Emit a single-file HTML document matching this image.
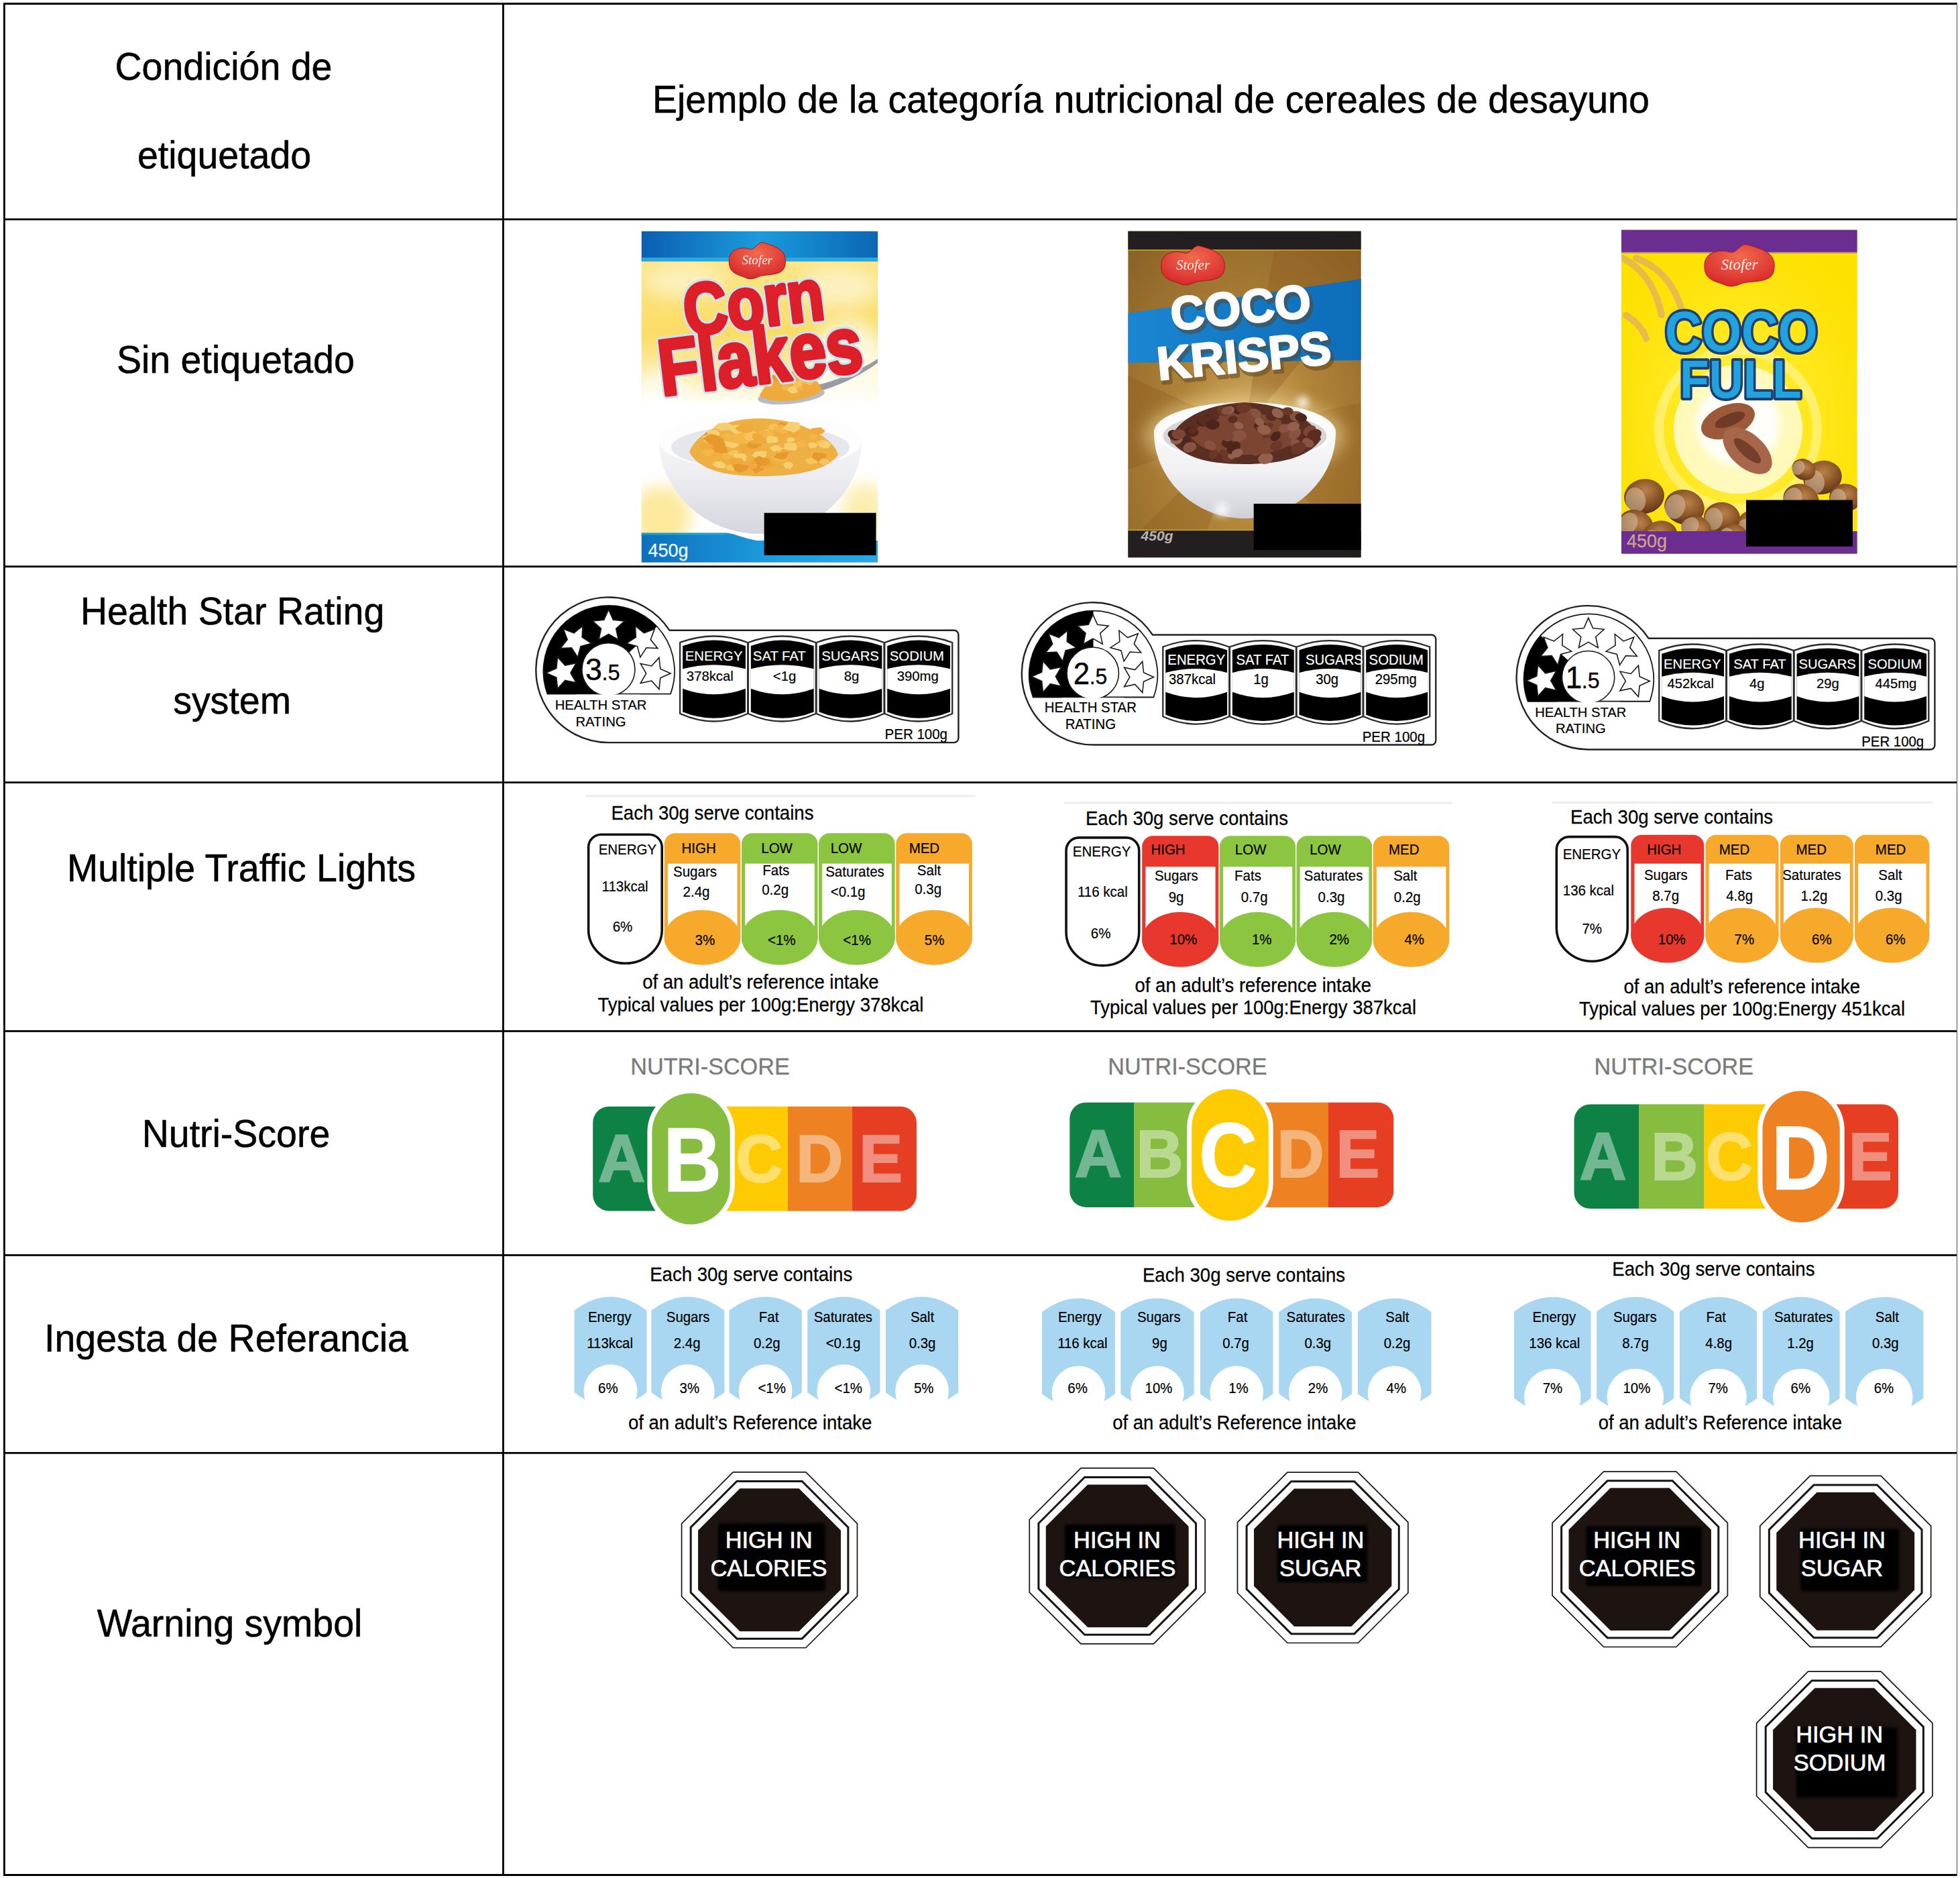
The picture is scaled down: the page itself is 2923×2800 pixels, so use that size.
<!DOCTYPE html>
<html lang="es"><head><meta charset="utf-8"><title>Etiquetado nutricional</title>
<style>
html,body{margin:0;padding:0;background:#fff;}
body{width:2923px;height:2800px;overflow:hidden;position:relative;font-family:"Liberation Sans",sans-serif;}
svg{position:absolute;left:0;top:0;display:block;}
text{font-family:"Liberation Sans",sans-serif;}
text.sf{font-family:"Liberation Serif",serif;font-style:italic;}
</style></head><body>
<svg width="2923" height="2800" viewBox="0 0 2923 2800">
<defs>
<clipPath id="cb3"><rect x="2418" y="342.5" width="351.8" height="483.3"/></clipPath>
<clipPath id="cb2"><rect x="1682.2" y="344.4" width="347.6" height="487"/></clipPath>
<clipPath id="cb1"><rect x="956.5" y="344.5" width="352.8" height="494.2"/></clipPath>
<filter id="blur2" x="-10%" y="-10%" width="120%" height="120%"><feGaussianBlur stdDeviation="2"/></filter>
<filter id="blur6" x="-150%" y="-150%" width="400%" height="400%"><feGaussianBlur stdDeviation="6"/></filter>
<filter id="blur12" x="-30%" y="-30%" width="160%" height="160%"><feGaussianBlur stdDeviation="12"/></filter>
<linearGradient id="blueband" x1="0" x2="1" y1="0" y2="0"><stop offset="0" stop-color="#0a5fb0"/><stop offset="0.5" stop-color="#1b9bdc"/><stop offset="1" stop-color="#0b66b4"/></linearGradient>
<linearGradient id="blueband2" x1="0" x2="1" y1="0" y2="0"><stop offset="0" stop-color="#0d6fbd"/><stop offset="0.6" stop-color="#1f9fe0"/><stop offset="1" stop-color="#2aa6e3"/></linearGradient>
<linearGradient id="yel1" x1="0" x2="0" y1="0" y2="1"><stop offset="0" stop-color="#fbe68a"/><stop offset="0.5" stop-color="#fbdc66"/><stop offset="0.8" stop-color="#fdeeb0"/><stop offset="1" stop-color="#ffffff"/></linearGradient>
<linearGradient id="yel1b" x1="0" x2="0" y1="0" y2="1"><stop offset="0" stop-color="#ffffff"/><stop offset="1" stop-color="#fbe070"/></linearGradient>
<linearGradient id="bowl1" x1="0" x2="0" y1="0" y2="1"><stop offset="0" stop-color="#fbfbfc"/><stop offset="0.5" stop-color="#eeeef2"/><stop offset="1" stop-color="#d5d6de"/></linearGradient>
<radialGradient id="brown2" cx="0.52" cy="0.62" r="0.75"><stop offset="0" stop-color="#d6b068"/><stop offset="0.4" stop-color="#b08439"/><stop offset="1" stop-color="#8b6227"/></radialGradient>
<linearGradient id="blue2" x1="0" x2="1" y1="0" y2="0"><stop offset="0" stop-color="#1b86d2"/><stop offset="1" stop-color="#0c6cb8"/></linearGradient>
<linearGradient id="bowl2" x1="0" x2="0" y1="0" y2="1"><stop offset="0" stop-color="#ffffff"/><stop offset="0.6" stop-color="#f1f1f4"/><stop offset="1" stop-color="#cfd0d8"/></linearGradient>
<radialGradient id="yel3" cx="0.5" cy="0.6" r="0.6"><stop offset="0" stop-color="#fff36e"/><stop offset="0.5" stop-color="#ffe81e"/><stop offset="1" stop-color="#fde100"/></radialGradient>
<radialGradient id="nut" cx="0.55" cy="0.35" r="0.75"><stop offset="0" stop-color="#b9824a"/><stop offset="0.5" stop-color="#8a5426"/><stop offset="1" stop-color="#4f2a12"/></radialGradient>
<radialGradient id="logo" cx="0.5" cy="0.3" r="0.8"><stop offset="0" stop-color="#f26b4e"/><stop offset="1" stop-color="#d41f26"/></radialGradient>
</defs>
<g fill="#000">
<rect x="5" y="4" width="2914" height="3"/>
<rect x="5" y="2794" width="2914" height="3"/>
<rect x="5" y="4" width="2.8" height="2793"/>
<rect x="749" y="4" width="2.8" height="2793"/>
<rect x="5" y="325.6" width="2914" height="2.8"/>
<rect x="5" y="843.3" width="2914" height="2.8"/>
<rect x="5" y="1165.2" width="2914" height="2.8"/>
<rect x="5" y="1536" width="2914" height="2.8"/>
<rect x="5" y="1870" width="2914" height="2.8"/>
<rect x="5" y="2164.9" width="2914" height="2.8"/>
<rect x="2917.9" y="4" width="1.2" height="2793" fill="#666"/>
</g>
<text transform="translate(333.5,118.5) scale(1,1.04)" font-size="55.5" stroke="#000" stroke-width="0.53" text-anchor="middle">Condición de</text>
<text transform="translate(334.5,250.6) scale(1,1.04)" font-size="55.5" stroke="#000" stroke-width="0.53" text-anchor="middle">etiquetado</text>
<text transform="translate(351.4,556.3) scale(1,1.04)" font-size="55.5" stroke="#000" stroke-width="0.53" text-anchor="middle">Sin etiquetado</text>
<text transform="translate(346.6,931.3) scale(1,1.04)" font-size="55.5" stroke="#000" stroke-width="0.53" text-anchor="middle">Health Star Rating</text>
<text transform="translate(346,1063.5) scale(1,1.04)" font-size="55.5" stroke="#000" stroke-width="0.53" text-anchor="middle">system</text>
<text transform="translate(360,1314) scale(1,1.04)" font-size="55.5" stroke="#000" stroke-width="0.53" text-anchor="middle">Multiple Traffic Lights</text>
<text transform="translate(352,1709.9) scale(1,1.04)" font-size="55.5" stroke="#000" stroke-width="0.53" text-anchor="middle">Nutri-Score</text>
<text transform="translate(337.5,2015.1) scale(1,1.04)" font-size="55.5" stroke="#000" stroke-width="0.53" text-anchor="middle">Ingesta de Referancia</text>
<text transform="translate(342.5,2439.8) scale(1,1.04)" font-size="55.5" stroke="#000" stroke-width="0.53" text-anchor="middle">Warning symbol</text>
<text transform="translate(1716.4,167.8) scale(1,1.04)" font-size="55.5" stroke="#000" stroke-width="0.53" text-anchor="middle">Ejemplo de la categoría nutricional de cereales de desayuno</text>
<g clip-path="url(#cb1)">
<rect x="956.5" y="344.5" width="352.8" height="494.2" fill="#fff"/>
<rect x="956.5" y="389" width="352.8" height="215" fill="url(#yel1)"/>
<ellipse cx="1020" cy="420" rx="60" ry="25" fill="#fff" opacity="0.45" filter="url(#blur12)"/>
<ellipse cx="1250" cy="430" rx="60" ry="30" fill="#fff" opacity="0.5" filter="url(#blur12)"/>
<ellipse cx="1265" cy="545" rx="60" ry="70" fill="#fff" opacity="0.7" filter="url(#blur12)"/>
<ellipse cx="985" cy="585" rx="40" ry="35" fill="#fff" opacity="0.6" filter="url(#blur12)"/>
<ellipse cx="985" cy="770" rx="45" ry="45" fill="#fbe27a" opacity="0.75" filter="url(#blur12)"/>
<ellipse cx="1290" cy="760" rx="35" ry="40" fill="#fbe27a" opacity="0.6" filter="url(#blur12)"/>
<rect x="956.5" y="344.5" width="352.8" height="45" fill="url(#blueband)"/>
<rect x="956.5" y="384" width="352.8" height="5.5" fill="#2aa9e0"/>
<path d="M983,660 C983,630 1060,616 1134,616 C1210,616 1285,630 1285,660 C1285,722 1228,796 1134,796 C1042,796 983,722 983,660Z" fill="url(#bowl1)"/>
<ellipse cx="1134" cy="658" rx="151" ry="43" fill="#fdfdfd"/>
<ellipse cx="1134" cy="667" rx="133" ry="33" fill="#e6e7ec"/>
<path d="M1028,674 C1040,642 1090,622 1140,624 C1190,626 1242,650 1250,678 C1232,704 1180,710 1134,710 C1085,710 1043,702 1028,674Z" fill="#eeb043"/>
<path d="M1117.9,647.34 L1105.09,651.51 L1099.01,650.38 L1095.56,643.48 L1103.1,638.99 L1117.73,643.14Z" fill="#f3b648"/>
<path d="M1168.36,640.52 L1158.67,645.18 L1149.86,644.77 L1147.47,637.38 L1153.82,633.12 L1163.5,635.16Z" fill="#f0a93a"/>
<path d="M1078.7,684.06 L1075.92,680.82 L1080.29,675.3 L1087.04,673.88 L1093.6,678.38 L1088.57,683.55Z" fill="#f3b648"/>
<path d="M1150.21,642.86 L1149.23,650.58 L1139.72,651.47 L1133.01,648.38 L1135.08,643.14 L1145.39,640.1Z" fill="#f8cf6e"/>
<path d="M1134.67,673.31 L1139.32,675.02 L1140.77,679.59 L1137.14,682.18 L1131.93,681.64 L1129.15,677.17Z" fill="#f3b648"/>
<path d="M1102.32,664.04 L1094.58,668.24 L1079.99,665.11 L1082.11,655.34 L1091.16,654.34 L1099.83,656.59Z" fill="#f8cf6e"/>
<path d="M1177.7,642.34 L1163.39,643.31 L1157.38,634.11 L1164.82,629.59 L1176.65,632.25 L1183.44,639.31Z" fill="#e8992e"/>
<path d="M1203.77,690.4 L1199.77,685.32 L1210.02,682.32 L1217.81,684.44 L1220.02,689.62 L1209.9,693.11Z" fill="#f6c45a"/>
<path d="M1052.47,644.87 L1059.5,643.64 L1067.84,649.58 L1064.28,652.59 L1053.74,655.03 L1048.21,650.63Z" fill="#e8992e"/>
<path d="M1131.41,654.49 L1129.1,648.52 L1135.03,641.39 L1153.29,642.05 L1154.61,649.85 L1147.3,656.65Z" fill="#f3b648"/>
<path d="M1168.85,667.1 L1175.98,673.07 L1175.42,679.02 L1167.78,680.91 L1156.88,678.86 L1154.51,669.75Z" fill="#f0a93a"/>
<path d="M1139.66,692.78 L1139.1,701.06 L1126.22,705.5 L1119.78,697.37 L1123,689.75 L1134.76,687.17Z" fill="#e8992e"/>
<path d="M1072.06,667.84 L1060.92,668.19 L1056.88,658.69 L1065.97,655.25 L1075.23,653.58 L1079.92,660.56Z" fill="#f0a93a"/>
<path d="M1125.42,674.06 L1134.38,672.46 L1143.65,672.81 L1142.11,682.2 L1130.19,684.11 L1121.16,679.85Z" fill="#f8cf6e"/>
<path d="M1086.48,657.59 L1078.42,653.85 L1076.25,648.57 L1085.36,645.93 L1093.8,648.74 L1091.06,654.91Z" fill="#f3b648"/>
<path d="M1072.51,660.08 L1084.69,664.88 L1082.84,674.32 L1072.88,676.33 L1060.31,671.44 L1062.31,665.04Z" fill="#f3b648"/>
<path d="M1078.31,655.4 L1085.01,648.63 L1101.45,648.55 L1103.02,653.01 L1098.44,661.06 L1086.38,659.11Z" fill="#f3b648"/>
<path d="M1154.84,690.08 L1156.29,694.78 L1146.54,698.87 L1133.76,697.54 L1132.78,686.06 L1142.38,683.57Z" fill="#f0a93a"/>
<path d="M1180.88,644.68 L1175.9,650.78 L1166.01,651.32 L1154.96,646.04 L1161.81,639.89 L1172.98,639.07Z" fill="#f0a93a"/>
<path d="M1110.56,651.71 L1120.13,654.09 L1124.61,660.8 L1114.92,662.62 L1109.8,661.52 L1106.1,655.64Z" fill="#f8cf6e"/>
<path d="M1074.54,655.71 L1082.48,662.39 L1077.17,668.36 L1063.43,668.57 L1058.08,662.21 L1061.55,658.92Z" fill="#e8992e"/>
<path d="M1093.97,679.7 L1085.1,677.34 L1088.18,672.88 L1095.3,670.39 L1100.38,672.31 L1101.44,676.58Z" fill="#f6c45a"/>
<path d="M1100.68,661.61 L1089.75,656.51 L1096.16,652.65 L1107.93,647.08 L1114.54,653.85 L1113.69,660.75Z" fill="#f3b648"/>
<path d="M1175,674.02 L1177.54,679.15 L1168.23,685.05 L1160.34,684.05 L1158.43,673.87 L1163.84,671.89Z" fill="#f3b648"/>
<path d="M1209.47,658.97 L1214.78,659.87 L1219.53,663.05 L1216.99,666.91 L1208.71,668.62 L1204.68,662.48Z" fill="#f8cf6e"/>
<path d="M1087.34,701.54 L1081.66,697.62 L1086.44,692.42 L1096.04,692.18 L1100.94,697.57 L1094.94,702.34Z" fill="#f6c45a"/>
<path d="M1174.32,634.93 L1176.57,643.81 L1172.2,649.92 L1158.11,649.21 L1154.3,640.15 L1161.2,632.31Z" fill="#f0a93a"/>
<path d="M1170.97,689.41 L1159.43,688.01 L1150.28,683.59 L1156.01,675.56 L1168.35,677.48 L1176.17,679.83Z" fill="#f3b648"/>
<path d="M1237.36,662.55 L1228.94,664.7 L1217.93,663.73 L1217.63,658.17 L1226.33,655.28 L1234.66,657.06Z" fill="#f6c45a"/>
<path d="M1062.28,659.43 L1050.4,658.57 L1047.63,650.22 L1057.18,647.37 L1064.91,647.73 L1069.19,655.33Z" fill="#f8cf6e"/>
<path d="M1151.1,641.59 L1146.23,639.06 L1146.81,634.18 L1152.15,631.47 L1160.65,633.85 L1156.72,639.53Z" fill="#f6c45a"/>
<path d="M1117.55,691.95 L1125.98,683.19 L1132.08,679.62 L1143.47,685.27 L1142.18,694.44 L1131.21,695.05Z" fill="#e8992e"/>
<path d="M1106.76,673.94 L1103.51,665.44 L1110.55,661.15 L1124.98,661.8 L1128.42,668.89 L1114.01,674.2Z" fill="#f0a93a"/>
<path d="M1220.74,688.98 L1210.59,682.13 L1213.23,674.41 L1225.92,675.31 L1233.08,677.6 L1228.23,686.51Z" fill="#e8992e"/>
<path d="M1233.05,658.02 L1239.86,661.93 L1235.33,668.33 L1227.6,668.18 L1220.8,665.29 L1222.7,659.7Z" fill="#f8cf6e"/>
<path d="M1107.95,643.98 L1097.25,647.69 L1087.06,640.38 L1089.18,634.35 L1103.24,633.06 L1109.8,638.05Z" fill="#f8cf6e"/>
<path d="M1129.69,688.18 L1132.33,685.01 L1140.25,682.01 L1148.35,685.2 L1149.03,691.82 L1135.16,694.42Z" fill="#e8992e"/>
<path d="M1115.02,666.26 L1114.06,660.67 L1121.81,656.18 L1133.29,658.25 L1135.76,662.93 L1126.85,668.88Z" fill="#e8992e"/>
<path d="M1139.21,652.48 L1133.07,662.32 L1123.59,661.34 L1112.86,658.21 L1119.54,648.68 L1132.96,650.44Z" fill="#f0a93a"/>
<path d="M1058.64,640.23 L1068.79,640.97 L1073.98,646.54 L1069.63,653.1 L1058.98,650.81 L1054.02,645.43Z" fill="#f8cf6e"/>
<path d="M1070.61,662.41 L1058.96,661.77 L1048.22,653.93 L1059.49,646.38 L1071.08,649.76 L1079.72,655.46Z" fill="#e8992e"/>
<path d="M1172.6,656.56 L1175.13,652.19 L1182.77,651.5 L1185.74,656.1 L1182.06,658.53 L1175.56,660.34Z" fill="#f8cf6e"/>
<path d="M1057.51,663.28 L1065.19,666.42 L1063.32,671.56 L1058.29,672.17 L1049.7,670.18 L1053.15,664.49Z" fill="#f0a93a"/>
<path d="M1125.94,655.42 L1114.87,657.88 L1109.06,651.29 L1110.87,645.39 L1122.67,641.27 L1132.77,648.51Z" fill="#f6c45a"/>
<path d="M1113.63,680.88 L1112.05,687.62 L1097.81,687.32 L1093.5,681.46 L1095.13,675.84 L1111.06,676.42Z" fill="#f8cf6e"/>
<path d="M1063.08,662.73 L1063.09,669.36 L1055.51,672.31 L1046.7,669.16 L1044.97,663.06 L1052.63,661.46Z" fill="#f0a93a"/>
<path d="M1053.88,680.8 L1045.73,674.02 L1050.89,669.67 L1062.88,669.37 L1064.37,675.87 L1059.57,679.18Z" fill="#f3b648"/>
<path d="M1185.04,660.25 L1190.05,664.27 L1186.93,671.38 L1177.45,671.56 L1168.1,669.18 L1171.02,660.22Z" fill="#f8cf6e"/>
<path d="M1163.65,671.99 L1153.84,673.43 L1147.12,667.35 L1155.54,663.81 L1160.25,664.16 L1168.75,668.49Z" fill="#f8cf6e"/>
<path d="M1122.75,645.72 L1132.48,646.33 L1138.79,650.39 L1136.44,654.94 L1126.95,655.77 L1121.98,653.14Z" fill="#f0a93a"/>
<path d="M1070.84,698.01 L1062.57,692.8 L1066.65,688.02 L1076.12,687.66 L1083.56,693.48 L1079.87,697.67Z" fill="#f8cf6e"/>
<path d="M1206.17,649.24 L1212.34,647.07 L1219.5,649.11 L1216.03,653.22 L1210.14,655.76 L1206.35,652.61Z" fill="#f3b648"/>
<path d="M1123.77,642.47 L1113.74,646.05 L1101.53,643.28 L1096.13,638.87 L1105.88,631.39 L1121.12,633.55Z" fill="#f0a93a"/>
<path d="M1066.48,674.08 L1061.4,667.73 L1071.86,663.35 L1082.58,665.88 L1085.8,674.82 L1076.21,675.95Z" fill="#e8992e"/>
<path d="M1187.36,646.44 L1189.39,650.88 L1183.03,652.66 L1179.32,651.79 L1177.59,646.73 L1182.84,643.88Z" fill="#f8cf6e"/>
<path d="M1187.6,651.39 L1180.08,652.64 L1177.13,645.95 L1177.42,642.05 L1191.38,642.87 L1195.86,645.24Z" fill="#f0a93a"/>
<path d="M1125.34,687.26 L1130.37,693.93 L1126.08,698.74 L1114.44,698.52 L1109.43,692.89 L1113.01,689.4Z" fill="#f0a93a"/>
<path d="M1235.64,685.42 L1237.4,689.47 L1229.65,693.87 L1223.31,691 L1221.57,687.31 L1227.14,683.34Z" fill="#f6c45a"/>
<path d="M1063.93,636.95 L1071.01,631.24 L1082.15,629.86 L1090.87,633.1 L1089.64,640.75 L1075.7,642.32Z" fill="#f8cf6e"/>
<path d="M1165.31,633.38 L1178.42,640.18 L1172.11,645.45 L1166.59,648.71 L1156.45,642.71 L1153.8,637.25Z" fill="#f3b648"/>
<path d="M1092.99,682.37 L1106.98,683.49 L1110.09,690.04 L1102.1,693.9 L1090.96,694.84 L1088.78,688.1Z" fill="#f0a93a"/>
<path d="M1143.47,660.19 L1137.59,660.06 L1134.69,655.43 L1139.46,653 L1147.63,652.7 L1148.62,656.75Z" fill="#f0a93a"/>
<path d="M1168.07,691.65 L1172.91,688.71 L1180.19,689.23 L1183.59,693.37 L1178.36,699.52 L1170.56,697.61Z" fill="#f8cf6e"/>
<path d="M1117.24,695.1 L1114.26,700.84 L1102.21,705.08 L1095.12,700.85 L1092.86,693.37 L1102.25,691.8Z" fill="#e8992e"/>
<path d="M1142.2,653.77 L1147.8,649.5 L1158.58,651.49 L1161.15,657.83 L1156.83,659.99 L1143.89,660.5Z" fill="#f8cf6e"/>
<path d="M1202.49,663.25 L1197.31,666.82 L1188.58,666.09 L1186.75,662.15 L1189.21,658.46 L1196.75,657.62Z" fill="#f3b648"/>
<path d="M1211.54,638.6 L1223.73,636.93 L1230.83,642.81 L1225.17,647.13 L1215.14,647.68 L1205.91,641.66Z" fill="#f0a93a"/>
<path d="M1177.62,628.62 L1192.38,630.33 L1193.35,639.29 L1184.24,645 L1166.76,639.33 L1171.57,634.23Z" fill="#f8cf6e"/>
<path d="M1176.92,674.64 L1172.79,683.25 L1165.74,685.37 L1153.17,681.88 L1156.71,677.34 L1167.99,673.65Z" fill="#e8992e"/>
<path d="M956.5,794.5 H1080 C1095,794.5 1105,802 1130,806 H1309.3 V838.7 H956.5Z" fill="url(#blueband2)"/>
<rect x="956.5" y="794.5" width="125" height="3" fill="#2bb0c9" opacity="0.7"/>
<path d="M1185,580 C1230,575 1270,560 1309,535 L1309,541 C1275,566 1232,584 1190,590Z" fill="#9a9ca3"/>
<ellipse cx="1180" cy="590" rx="50" ry="12" fill="#b9bbc2" transform="rotate(-6 1180 590)"/>
<path d="M1133,590 C1140,570 1165,556 1185,553 C1210,556 1222,570 1226,582 C1210,598 1150,604 1133,590Z" fill="#eeaa3c"/>
<path d="M1176.99,574.85 L1180.25,579.91 L1175.54,583.08 L1168.14,581.87 L1164.72,578.99 L1167.27,574.75Z" fill="#f3b648"/>
<path d="M1161.4,562 L1159.75,563.78 L1154.41,565.53 L1151.45,564.51 L1150.49,559.96 L1154.55,558.53Z" fill="#e8992e"/>
<path d="M1181,575.79 L1188.09,577.76 L1190.23,584.92 L1181.23,586.99 L1174.63,582.66 L1175.15,579.01Z" fill="#f8cf6e"/>
<path d="M1191.1,570.32 L1190.81,566.25 L1199.98,563.3 L1204.18,566.06 L1204.82,569.75 L1196.96,570.92Z" fill="#f6c45a"/>
<path d="M1189.92,565.55 L1184.92,569.42 L1177.75,567.54 L1173.01,564.02 L1181.47,561.24 L1186.78,561.69Z" fill="#f3b648"/>
<path d="M1196.52,572.01 L1194.12,567.27 L1198.29,562.84 L1203.97,562.71 L1209.3,566.49 L1203.59,572.04Z" fill="#f3b648"/>
<path d="M1183.1,574.93 L1182.71,570.72 L1187.67,567.62 L1194.83,568.07 L1196.71,574.22 L1191.42,576.21Z" fill="#f6c45a"/>
<path d="M1187.2,577.7 L1193.7,575.27 L1197.35,576.84 L1197.8,581.05 L1194.37,582.16 L1188.61,579.91Z" fill="#f3b648"/>
<path d="M1165.13,565.7 L1167.22,571.41 L1162.28,574.34 L1152.78,573.55 L1148.44,568.57 L1152.98,566.01Z" fill="#f0a93a"/>
<path d="M1157.16,569.24 L1153.71,566.6 L1154.26,564.01 L1159.16,562.76 L1165.26,566.05 L1162.91,569.13Z" fill="#e8992e"/>
<path d="M1170.14,567.74 L1169.46,563.44 L1176.6,561.72 L1185.83,563.33 L1184.76,568.93 L1176.47,571.2Z" fill="#f0a93a"/>
<path d="M1186.71,571.64 L1191.61,570.36 L1197.09,572.78 L1193.65,577.01 L1186.8,578.38 L1182.07,575.45Z" fill="#f6c45a"/>
<path d="M1209.11,567.98 L1213.64,570.5 L1209.25,574.33 L1205.92,574.41 L1201.64,571.14 L1204.71,568.18Z" fill="#f6c45a"/>
<path d="M1209.24,576.35 L1209.48,580.05 L1200.66,580.95 L1196.79,577.58 L1198.41,574.47 L1202.81,571.46Z" fill="#f0a93a"/>
<g transform="translate(0,-5) rotate(-7 1130 500) translate(1130,500) scale(0.9,1.08) translate(-1130,-500)">
<text x="1129" y="493" font-size="100" text-anchor="middle" fill="#b9dbe8" stroke="#c9e4ee" stroke-width="11" font-weight="bold" stroke-linejoin="round" paint-order="stroke">Corn</text>
<text x="1129" y="571" font-size="109" text-anchor="middle" fill="#b9dbe8" stroke="#c9e4ee" stroke-width="11" font-weight="bold" stroke-linejoin="round" paint-order="stroke">Flakes</text>
<text x="1129" y="493" font-size="100" text-anchor="middle" fill="#dd1f29" stroke="#dd1f29" stroke-width="5" font-weight="bold" stroke-linejoin="round" paint-order="stroke">Corn</text>
<text x="1129" y="571" font-size="109" text-anchor="middle" fill="#dd1f29" stroke="#dd1f29" stroke-width="5" font-weight="bold" stroke-linejoin="round" paint-order="stroke">Flakes</text>
</g>
<path d="M1087.3,390.7 C1085.62,369.1 1108.3,367.48 1119.22,371.8 C1127.62,371.8 1130.98,358.3 1139.38,362.08 C1154.5,366.4 1172.98,371.8 1171.3,390.7 C1171.3,409.6 1154.5,408.52 1137.7,410.68 C1129.3,411.76 1125.1,417.7 1114.18,415 C1104.1,409.6 1087.3,409.6 1087.3,390.7Z" fill="url(#logo)" stroke="#a3151b" stroke-width="1"/>
<text x="1129.3" y="394.08" font-size="19" class="sf" fill="#fff" text-anchor="middle" opacity="0.92">Stofer</text>
<rect x="1139.6" y="764.7" width="166.9" height="63.1" fill="#000"/>
<text transform="translate(966.5,830) scale(1,1.04)" font-size="27" fill="#eaf8ff" stroke="#eaf8ff" stroke-width="0.26">450g</text>
</g>
<g clip-path="url(#cb2)">
<rect x="1682.2" y="344.4" width="347.6" height="487" fill="url(#brown2)"/>
<path d="M1856,640 L1682.2,560 L1682.2,700Z" fill="#8a5a1e" opacity="0.35"/>
<path d="M1856,640 L1900,372 L2029.8,372 L2029.8,430Z" fill="#8a5a1e" opacity="0.35"/>
<path d="M1856,640 L2029.8,600 L2029.8,791 L1990,791Z" fill="#8a5a1e" opacity="0.3"/>
<path d="M1856,640 L1700,791 L1800,791Z" fill="#8a5a1e" opacity="0.3"/>
<path d="M1682.2,467 L2029.8,416 L2029.8,537 L1682.2,541Z" fill="url(#blue2)"/>
<rect x="1682.2" y="344.4" width="347.6" height="28" fill="#231f20"/>
<rect x="1682.2" y="372" width="347.6" height="1.6" fill="#c9a227"/>
<rect x="1682.2" y="791" width="347.6" height="40.4" fill="#231f20"/>
<rect x="1682.2" y="789.5" width="347.6" height="1.6" fill="#c9a227"/>
<ellipse cx="1856" cy="650" rx="150" ry="60" fill="#f5dfa0" opacity="0.55" filter="url(#blur12)"/>
<path d="M1721,646 C1721,616 1790,600 1856,600 C1925,600 1992,616 1992,646 C1992,710 1935,773 1856,773 C1778,773 1721,710 1721,646Z" fill="url(#bowl2)"/>
<ellipse cx="1856.5" cy="644" rx="135.5" ry="44" fill="#fbfbfc"/>
<ellipse cx="1856.5" cy="650" rx="122" ry="36" fill="#d8d5d6"/>
<path d="M1745,655 C1755,625 1800,602 1856,600 C1915,602 1960,625 1970,655 C1950,684 1905,692 1856,692 C1805,692 1765,684 1745,655Z" fill="#5a2e22"/>
<path d="M1775,650 C1790,628 1820,615 1856,614 C1895,616 1925,630 1940,650 C1920,672 1890,678 1856,678 C1820,678 1790,672 1775,650Z" fill="#7b4532"/>
<ellipse cx="1847.26" cy="649.66" rx="11.62" ry="8.37" fill="#8a5240" transform="rotate(-3.85 1847.26 649.66)"/>
<ellipse cx="1933.83" cy="620.81" rx="11.02" ry="7.93" fill="#8a5240" transform="rotate(10.39 1933.83 620.81)"/>
<ellipse cx="1920.49" cy="613.34" rx="8.52" ry="6.13" fill="#6b3828" transform="rotate(3.1 1920.49 613.34)"/>
<ellipse cx="1941.43" cy="655.49" rx="9.98" ry="7.18" fill="#8a5240" transform="rotate(37.18 1941.43 655.49)"/>
<ellipse cx="1890.59" cy="654.01" rx="7.79" ry="5.61" fill="#6b3828" transform="rotate(26.54 1890.59 654.01)"/>
<ellipse cx="1939.11" cy="652.77" rx="10.89" ry="7.84" fill="#5a2d20" transform="rotate(-4.76 1939.11 652.77)"/>
<ellipse cx="1931.12" cy="646.49" rx="10.2" ry="7.35" fill="#8a5240" transform="rotate(-39.63 1931.12 646.49)"/>
<ellipse cx="1768.27" cy="657.07" rx="9.03" ry="6.5" fill="#4c251b" transform="rotate(39.66 1768.27 657.07)"/>
<ellipse cx="1930.65" cy="661.21" rx="8.58" ry="6.17" fill="#7d4634" transform="rotate(1.03 1930.65 661.21)"/>
<ellipse cx="1756.4" cy="649.93" rx="7.54" ry="5.43" fill="#6b3828" transform="rotate(27.73 1756.4 649.93)"/>
<ellipse cx="1833.1" cy="680.73" rx="11.24" ry="8.09" fill="#6b3828" transform="rotate(-22.92 1833.1 680.73)"/>
<ellipse cx="1830.72" cy="661.29" rx="9.1" ry="6.55" fill="#4c251b" transform="rotate(10.36 1830.72 661.29)"/>
<ellipse cx="1917.38" cy="627.04" rx="7.44" ry="5.35" fill="#5a2d20" transform="rotate(-38.79 1917.38 627.04)"/>
<ellipse cx="1838.16" cy="677.98" rx="7.67" ry="5.52" fill="#93604d" transform="rotate(-31.92 1838.16 677.98)"/>
<ellipse cx="1788.2" cy="649.63" rx="9.24" ry="6.65" fill="#7d4634" transform="rotate(38.82 1788.2 649.63)"/>
<ellipse cx="1915.45" cy="638.7" rx="8.92" ry="6.42" fill="#8a5240" transform="rotate(-6.34 1915.45 638.7)"/>
<ellipse cx="1795.77" cy="627.04" rx="11.85" ry="8.54" fill="#4c251b" transform="rotate(-15.67 1795.77 627.04)"/>
<ellipse cx="1940.25" cy="622.44" rx="8.97" ry="6.46" fill="#4c251b" transform="rotate(11.35 1940.25 622.44)"/>
<ellipse cx="1795.85" cy="626.15" rx="10.86" ry="7.82" fill="#5a2d20" transform="rotate(26.42 1795.85 626.15)"/>
<ellipse cx="1833.03" cy="611.79" rx="8.04" ry="5.79" fill="#93604d" transform="rotate(-20.56 1833.03 611.79)"/>
<ellipse cx="1879.28" cy="634.99" rx="9.27" ry="6.67" fill="#4c251b" transform="rotate(-1.3 1879.28 634.99)"/>
<ellipse cx="1873.53" cy="673.59" rx="7.91" ry="5.7" fill="#7d4634" transform="rotate(-15.14 1873.53 673.59)"/>
<ellipse cx="1799.1" cy="653.61" rx="10.63" ry="7.65" fill="#7d4634" transform="rotate(19.15 1799.1 653.61)"/>
<ellipse cx="1879.76" cy="638.87" rx="7.52" ry="5.41" fill="#6b3828" transform="rotate(0.99 1879.76 638.87)"/>
<ellipse cx="1804.86" cy="663.71" rx="8.96" ry="6.45" fill="#8a5240" transform="rotate(25.9 1804.86 663.71)"/>
<ellipse cx="1878.24" cy="628.89" rx="7.88" ry="5.67" fill="#93604d" transform="rotate(38.17 1878.24 628.89)"/>
<ellipse cx="1777.18" cy="643.39" rx="10.27" ry="7.39" fill="#4c251b" transform="rotate(9.14 1777.18 643.39)"/>
<ellipse cx="1810.25" cy="677.55" rx="8.02" ry="5.77" fill="#6b3828" transform="rotate(-34.47 1810.25 677.55)"/>
<ellipse cx="1838.46" cy="625.43" rx="7.23" ry="5.21" fill="#5a2d20" transform="rotate(-10.5 1838.46 625.43)"/>
<ellipse cx="1873.02" cy="616.26" rx="8.81" ry="6.34" fill="#8a5240" transform="rotate(38.44 1873.02 616.26)"/>
<ellipse cx="1891.24" cy="659.92" rx="9.92" ry="7.14" fill="#7d4634" transform="rotate(7.19 1891.24 659.92)"/>
<ellipse cx="1948.57" cy="643.03" rx="8.79" ry="6.33" fill="#5a2d20" transform="rotate(37.02 1948.57 643.03)"/>
<ellipse cx="1754.57" cy="655.62" rx="9.41" ry="6.78" fill="#93604d" transform="rotate(-15.11 1754.57 655.62)"/>
<ellipse cx="1847.41" cy="634.69" rx="7.22" ry="5.2" fill="#93604d" transform="rotate(18.97 1847.41 634.69)"/>
<ellipse cx="1823.45" cy="612.62" rx="9.37" ry="6.74" fill="#6b3828" transform="rotate(29.69 1823.45 612.62)"/>
<ellipse cx="1839.69" cy="667.66" rx="11.32" ry="8.15" fill="#4c251b" transform="rotate(-38.84 1839.69 667.66)"/>
<ellipse cx="1892.39" cy="635.58" rx="7.06" ry="5.08" fill="#6b3828" transform="rotate(-33.58 1892.39 635.58)"/>
<ellipse cx="1887.47" cy="683.48" rx="11.4" ry="8.21" fill="#93604d" transform="rotate(-13.59 1887.47 683.48)"/>
<ellipse cx="1950.86" cy="660.14" rx="9.29" ry="6.69" fill="#8a5240" transform="rotate(27.07 1950.86 660.14)"/>
<ellipse cx="1768.01" cy="664.52" rx="7.15" ry="5.15" fill="#4c251b" transform="rotate(-32.98 1768.01 664.52)"/>
<ellipse cx="1774.27" cy="666.84" rx="10.3" ry="7.42" fill="#8a5240" transform="rotate(-19.53 1774.27 666.84)"/>
<ellipse cx="1895.8" cy="621.8" rx="7.85" ry="5.65" fill="#5a2d20" transform="rotate(12.8 1895.8 621.8)"/>
<ellipse cx="1845.02" cy="675.55" rx="8.63" ry="6.22" fill="#93604d" transform="rotate(-19.95 1845.02 675.55)"/>
<ellipse cx="1886.35" cy="668.69" rx="10.77" ry="7.76" fill="#7d4634" transform="rotate(30.42 1886.35 668.69)"/>
<ellipse cx="1832.65" cy="651.48" rx="8.58" ry="6.18" fill="#7d4634" transform="rotate(-29.24 1832.65 651.48)"/>
<ellipse cx="1825.41" cy="675.86" rx="7.2" ry="5.19" fill="#6b3828" transform="rotate(36 1825.41 675.86)"/>
<ellipse cx="1809.51" cy="619.19" rx="9.25" ry="6.66" fill="#5a2d20" transform="rotate(34.06 1809.51 619.19)"/>
<ellipse cx="1928.64" cy="635.84" rx="9.6" ry="6.91" fill="#93604d" transform="rotate(-14.77 1928.64 635.84)"/>
<ellipse cx="1847.28" cy="611.82" rx="7.16" ry="5.15" fill="#4c251b" transform="rotate(-36.68 1847.28 611.82)"/>
<ellipse cx="1902.36" cy="650.51" rx="8.55" ry="6.15" fill="#4c251b" transform="rotate(-38.47 1902.36 650.51)"/>
<ellipse cx="1779.21" cy="641.48" rx="7.12" ry="5.13" fill="#5a2d20" transform="rotate(-21.01 1779.21 641.48)"/>
<ellipse cx="1885.27" cy="640.83" rx="10.15" ry="7.31" fill="#93604d" transform="rotate(11.19 1885.27 640.83)"/>
<ellipse cx="1829.27" cy="612.08" rx="7.99" ry="5.75" fill="#8a5240" transform="rotate(-19.52 1829.27 612.08)"/>
<ellipse cx="1903.56" cy="664.89" rx="9.67" ry="6.97" fill="#6b3828" transform="rotate(-25.67 1903.56 664.89)"/>
<ellipse cx="1808.56" cy="632.97" rx="10.49" ry="7.55" fill="#4c251b" transform="rotate(0.03 1808.56 632.97)"/>
<ellipse cx="1932.48" cy="660.58" rx="8.12" ry="5.85" fill="#8a5240" transform="rotate(34.61 1932.48 660.58)"/>
<ellipse cx="1905.31" cy="616.13" rx="9.27" ry="6.67" fill="#93604d" transform="rotate(30.99 1905.31 616.13)"/>
<ellipse cx="1751.45" cy="648.9" rx="10.26" ry="7.39" fill="#4c251b" transform="rotate(23.74 1751.45 648.9)"/>
<ellipse cx="1953.02" cy="642.17" rx="10.26" ry="7.38" fill="#7d4634" transform="rotate(-32.08 1953.02 642.17)"/>
<ellipse cx="1936.22" cy="668.27" rx="11.62" ry="8.37" fill="#6b3828" transform="rotate(-22.94 1936.22 668.27)"/>
<ellipse cx="1960.13" cy="647.88" rx="10.95" ry="7.89" fill="#5a2d20" transform="rotate(-19.05 1960.13 647.88)"/>
<ellipse cx="1858.51" cy="608.9" rx="8.71" ry="6.27" fill="#8a5240" transform="rotate(21.46 1858.51 608.9)"/>
<ellipse cx="1854.8" cy="608.22" rx="11.05" ry="7.95" fill="#6b3828" transform="rotate(-5.69 1854.8 608.22)"/>
<ellipse cx="1757.55" cy="647.58" rx="10.43" ry="7.51" fill="#7d4634" transform="rotate(-2.36 1757.55 647.58)"/>
<circle cx="1822" cy="760" r="9" fill="#fff" filter="url(#blur6)"/>
<circle cx="1943" cy="600" r="8" fill="#fff" filter="url(#blur6)"/>
<g transform="translate(0,-12) rotate(-5.5 1856 500)">
<text x="1853" y="494" font-size="70" text-anchor="middle" fill="#5b4321" opacity="0.5" stroke="#5b4321" stroke-width="6" font-weight="bold" stroke-linejoin="round" paint-order="stroke" transform="translate(3,5)">COCO</text>
<text x="1851" y="566" font-size="70" text-anchor="middle" fill="#5b4321" opacity="0.5" stroke="#5b4321" stroke-width="6" font-weight="bold" stroke-linejoin="round" paint-order="stroke" transform="translate(3,5)">KRISPS</text>
<text x="1853" y="494" font-size="70" text-anchor="middle" fill="#fdfdfd" stroke="#fdfdfd" stroke-width="2.5" font-weight="bold" stroke-linejoin="round" paint-order="stroke">COCO</text>
<text x="1851" y="566" font-size="70" text-anchor="middle" fill="#fdfdfd" stroke="#fdfdfd" stroke-width="2.5" font-weight="bold" stroke-linejoin="round" paint-order="stroke">KRISPS</text>
</g>
<path d="M1732,397.9 C1730.12,374.7 1755.5,372.96 1767.72,377.6 C1777.12,377.6 1780.88,363.1 1790.28,367.16 C1807.2,371.8 1827.88,377.6 1826,397.9 C1826,418.2 1807.2,417.04 1788.4,419.36 C1779,420.52 1774.3,426.9 1762.08,424 C1750.8,418.2 1732,418.2 1732,397.9Z" fill="url(#logo)" stroke="#a3151b" stroke-width="1"/>
<text x="1779" y="401.72" font-size="21" class="sf" fill="#fff" text-anchor="middle" opacity="0.92">Stofer</text>
<rect x="1869.7" y="751" width="160.1" height="69" fill="#000"/>
<text x="1701.6" y="806" font-size="21" font-style="italic" font-weight="bold" fill="#b9b4b0">450g</text>
</g>
<g clip-path="url(#cb3)">
<rect x="2418" y="342.5" width="351.8" height="483.3" fill="url(#yel3)"/>
<circle cx="2592" cy="640" r="118" fill="none" stroke="#fff6a8" stroke-width="14" opacity="0.55"/>
<circle cx="2592" cy="640" r="96" fill="#fffbd2" opacity="0.85"/>
<circle cx="2592" cy="632" r="62" fill="#fff" opacity="0.9" filter="url(#blur6)"/>
<path d="M2420,385 C2450,400 2470,430 2478,470 M2440,385 C2480,400 2500,430 2510,470 M2425,470 C2440,480 2450,490 2455,505" stroke="#e0ad62" stroke-width="10" fill="none" opacity="0.75" stroke-linecap="round" stroke-dasharray="7 4"/>
<rect x="2418" y="342.5" width="351.8" height="33.5" fill="#6c2d91"/>
<rect x="2418" y="375.5" width="351.8" height="2.5" fill="#9b6fb5" opacity="0.6"/>
<g transform="rotate(-10 2452 740)"><ellipse cx="2452" cy="740" rx="30" ry="25.8" fill="url(#nut)"/><ellipse cx="2438.5" cy="743" rx="15" ry="18.6" fill="#d8c3a8" opacity="0.55"/></g>
<g transform="rotate(15 2512 756)"><ellipse cx="2512" cy="756" rx="30" ry="25.8" fill="url(#nut)"/><ellipse cx="2498.5" cy="759" rx="15" ry="18.6" fill="#d8c3a8" opacity="0.55"/></g>
<g transform="rotate(30 2440 784)"><ellipse cx="2440" cy="784" rx="27" ry="23.22" fill="url(#nut)"/><ellipse cx="2427.85" cy="786.7" rx="13.5" ry="16.74" fill="#d8c3a8" opacity="0.55"/></g>
<g transform="rotate(-20 2475 800)"><ellipse cx="2475" cy="800" rx="27" ry="23.22" fill="url(#nut)"/><ellipse cx="2462.85" cy="802.7" rx="13.5" ry="16.74" fill="#d8c3a8" opacity="0.55"/></g>
<g transform="rotate(5 2568 772)"><ellipse cx="2568" cy="772" rx="27" ry="23.22" fill="url(#nut)"/><ellipse cx="2555.85" cy="774.7" rx="13.5" ry="16.74" fill="#d8c3a8" opacity="0.55"/></g>
<g transform="rotate(40 2530 790)"><ellipse cx="2530" cy="790" rx="24" ry="20.64" fill="url(#nut)"/><ellipse cx="2519.2" cy="792.4" rx="12" ry="14.88" fill="#d8c3a8" opacity="0.55"/></g>
<g transform="rotate(-30 2612 780)"><ellipse cx="2612" cy="780" rx="22" ry="18.92" fill="url(#nut)"/><ellipse cx="2602.1" cy="782.2" rx="11" ry="13.64" fill="#d8c3a8" opacity="0.55"/></g>
<g transform="rotate(10 2585 800)"><ellipse cx="2585" cy="800" rx="22" ry="18.92" fill="url(#nut)"/><ellipse cx="2575.1" cy="802.2" rx="11" ry="13.64" fill="#d8c3a8" opacity="0.55"/></g>
<g transform="rotate(0 2555 808)"><ellipse cx="2555" cy="808" rx="20" ry="17.2" fill="url(#nut)"/><ellipse cx="2546" cy="810" rx="10" ry="12.4" fill="#d8c3a8" opacity="0.55"/></g>
<g transform="rotate(-15 2718 712)"><ellipse cx="2718" cy="712" rx="29" ry="24.94" fill="url(#nut)"/><ellipse cx="2704.95" cy="714.9" rx="14.5" ry="17.98" fill="#d8c3a8" opacity="0.55"/></g>
<g transform="rotate(20 2686 745)"><ellipse cx="2686" cy="745" rx="27" ry="23.22" fill="url(#nut)"/><ellipse cx="2673.85" cy="747.7" rx="13.5" ry="16.74" fill="#d8c3a8" opacity="0.55"/></g>
<g transform="rotate(5 2752 742)"><ellipse cx="2752" cy="742" rx="24" ry="20.64" fill="url(#nut)"/><ellipse cx="2741.2" cy="744.4" rx="12" ry="14.88" fill="#d8c3a8" opacity="0.55"/></g>
<g transform="rotate(-25 2645 770)"><ellipse cx="2645" cy="770" rx="22" ry="18.92" fill="url(#nut)"/><ellipse cx="2635.1" cy="772.2" rx="11" ry="13.64" fill="#d8c3a8" opacity="0.55"/></g>
<g transform="rotate(30 2690 700)"><ellipse cx="2690" cy="700" rx="18" ry="15.48" fill="url(#nut)"/><ellipse cx="2681.9" cy="701.8" rx="9" ry="11.16" fill="#d8c3a8" opacity="0.55"/></g>
<rect x="2418" y="792" width="351.8" height="33.8" fill="#6c2d91"/>
<ellipse cx="2577" cy="628" rx="42" ry="24" fill="#9c5a3b" transform="rotate(-22 2577 628)"/>
<ellipse cx="2580" cy="626" rx="24" ry="9" fill="#6f3a26" transform="rotate(-22 2580 626)"/>
<ellipse cx="2606" cy="672" rx="44" ry="25" fill="#a7654a" transform="rotate(42 2606 672)"/>
<ellipse cx="2606" cy="672" rx="26" ry="9" fill="#74402b" transform="rotate(42 2606 672)"/>
<text transform="translate(2597,524) scale(1,1.12)" font-size="76" text-anchor="middle" fill="#22a3de" stroke="#1d3f73" stroke-width="7" font-weight="bold" stroke-linejoin="round" paint-order="stroke">COCO</text>
<text transform="translate(2596,593) scale(1,1.12)" font-size="71" text-anchor="middle" fill="#22a3de" stroke="#1d3f73" stroke-width="7" font-weight="bold" stroke-linejoin="round" paint-order="stroke">FULL</text>
<path d="M2542,398.1 C2539.92,373.3 2568,371.44 2581.52,376.4 C2591.92,376.4 2596.08,360.9 2606.48,365.24 C2625.2,370.2 2648.08,376.4 2646,398.1 C2646,419.8 2625.2,418.56 2604.4,421.04 C2594,422.28 2588.8,429.1 2575.28,426 C2562.8,419.8 2542,419.8 2542,398.1Z" fill="url(#logo)" stroke="#a3151b" stroke-width="1"/>
<text x="2594" y="402.36" font-size="23" class="sf" fill="#fff" text-anchor="middle" opacity="0.92">Stofer</text>
<rect x="2604" y="745.5" width="159" height="69.3" fill="#000"/>
<text transform="translate(2426,816) scale(1,1.04)" font-size="27" fill="#cfa58a" stroke="#cfa58a" stroke-width="0.26">450g</text>
</g>
<g transform="translate(798.3,889.5) scale(1) translate(-798.3,-889.5)">
<path d="M998.35,939.7 H1422.9 A6.5,6.5 0 0 1 1429.4,946.2 V1100.6 A6.5,6.5 0 0 1 1422.9,1107.1 H907.6 A108.3,108.3 0 1 1 998.35,939.7Z" fill="#fff" stroke="#222" stroke-width="2.4"/>
<path d="M816.43,1034.6 A97.8,97.8 0 1 1 999.97,1034.6Z" fill="#fff" stroke="#1a1a1a" stroke-width="1.8"/>
<path d="M908.2,1000.8 L908.2,1034.6 L816.43,1034.6 A97.8,97.8 0 0 1 979.73,934.1Z" fill="#000"/>
<path d="M814.4,1003.3 L829.77,996.45 L831.54,979.71 L842.8,992.21 L859.26,988.72 L850.86,1003.3 L859.26,1017.88 L842.8,1014.39 L831.54,1026.89 L829.77,1010.15Z" fill="#fff" stroke="#1a1a1a" stroke-width="1.6" stroke-linejoin="miter"/>
<path d="M840.16,937.86 L855.88,943.89 L868.96,933.3 L868.09,950.11 L882.19,959.28 L865.94,963.64 L861.58,979.89 L852.41,965.79 L835.6,966.66 L846.19,953.58Z" fill="#fff" stroke="#1a1a1a" stroke-width="1.6" stroke-linejoin="miter"/>
<path d="M907.6,908.9 L914.45,924.27 L931.19,926.04 L918.69,937.3 L922.18,953.76 L907.6,945.36 L893.02,953.76 L896.51,937.3 L884.01,926.04 L900.75,924.27Z" fill="#fff" stroke="#1a1a1a" stroke-width="1.6" stroke-linejoin="miter"/>
<path d="M976.24,937.86 L970.21,953.58 L980.8,966.66 L963.99,965.79 L954.82,979.89 L950.46,963.64 L934.21,959.28 L948.31,950.11 L947.44,933.3 L960.52,943.89Z" fill="#fff" stroke="#1a1a1a" stroke-width="1.6" stroke-linejoin="miter"/>
<path d="M1000.1,1004 L984.73,1010.85 L982.96,1027.59 L971.7,1015.09 L955.24,1018.58 L963.64,1004 L955.24,989.42 L971.7,992.91 L982.96,980.41 L984.73,997.15Z" fill="#fff" stroke="#1a1a1a" stroke-width="1.6" stroke-linejoin="miter"/>
<circle cx="907.4" cy="998.1" r="39.5" fill="#fff" stroke="#1a1a1a" stroke-width="1.6"/>
<rect x="860" y="1035.5" width="95" height="6" fill="#fff"/>
<text transform="translate(873.1,1014.2) scale(1,1.04)" font-size="44.6" stroke="#000" stroke-width="0.42">3</text>
<text transform="translate(897.5,1014.2) scale(1,1.04)" font-size="32.5" stroke="#000" stroke-width="0.31">.5</text>
<text transform="translate(896,1057.9) scale(1,1.04)" font-size="20.3" stroke="#000" stroke-width="0.19" text-anchor="middle">HEALTH STAR</text>
<text transform="translate(896,1082.6) scale(1,1.04)" font-size="20.3" stroke="#000" stroke-width="0.19" text-anchor="middle">RATING</text>
<path d="M1014.1,958 Q1064.6,939 1115.1,958 V1064 Q1064.6,1087 1014.1,1064Z" fill="#fff" stroke="#2a2a2a" stroke-width="2.3"/>
<path d="M1018.1,963 Q1064.6,946 1111.9,963 V1061.5 Q1064.6,1080 1018.1,1061.5Z" fill="#000"/>
<path d="M1018.1,997.3 Q1064.6,985.1 1111.9,997.3 V1026.7 Q1064.6,1043.9 1018.1,1026.7Z" fill="#fff"/>
<text transform="translate(1064.6,985) scale(1,1.04)" font-size="20.3" fill="#fff" stroke="#fff" stroke-width="0.19" text-anchor="middle">ENERGY</text>
<text transform="translate(1058.8,1014.5) scale(1,1.04)" font-size="20.3" stroke="#000" stroke-width="0.19" text-anchor="middle">378kcal</text>
<path d="M1115.8,958 Q1166.3,939 1216.8,958 V1064 Q1166.3,1087 1115.8,1064Z" fill="#fff" stroke="#2a2a2a" stroke-width="2.3"/>
<path d="M1119.8,963 Q1166.3,946 1213.6,963 V1061.5 Q1166.3,1080 1119.8,1061.5Z" fill="#000"/>
<path d="M1119.8,997.3 Q1166.3,985.1 1213.6,997.3 V1026.7 Q1166.3,1043.9 1119.8,1026.7Z" fill="#fff"/>
<text transform="translate(1162.3,985) scale(1,1.04)" font-size="20.3" fill="#fff" stroke="#fff" stroke-width="0.19" text-anchor="middle">SAT FAT</text>
<text transform="translate(1170,1014.5) scale(1,1.04)" font-size="20.3" stroke="#000" stroke-width="0.19" text-anchor="middle">&lt;1g</text>
<path d="M1217.5,958 Q1268,939 1318.5,958 V1064 Q1268,1087 1217.5,1064Z" fill="#fff" stroke="#2a2a2a" stroke-width="2.3"/>
<path d="M1221.5,963 Q1268,946 1315.3,963 V1061.5 Q1268,1080 1221.5,1061.5Z" fill="#000"/>
<path d="M1221.5,997.3 Q1268,985.1 1315.3,997.3 V1026.7 Q1268,1043.9 1221.5,1026.7Z" fill="#fff"/>
<text transform="translate(1268,985) scale(1,1.04)" font-size="20.3" fill="#fff" stroke="#fff" stroke-width="0.19" text-anchor="middle">SUGARS</text>
<text transform="translate(1270,1014.5) scale(1,1.04)" font-size="20.3" stroke="#000" stroke-width="0.19" text-anchor="middle">8g</text>
<path d="M1319.2,958 Q1369.7,939 1420.2,958 V1064 Q1369.7,1087 1319.2,1064Z" fill="#fff" stroke="#2a2a2a" stroke-width="2.3"/>
<path d="M1323.2,963 Q1369.7,946 1417,963 V1061.5 Q1369.7,1080 1323.2,1061.5Z" fill="#000"/>
<path d="M1323.2,997.3 Q1369.7,985.1 1417,997.3 V1026.7 Q1369.7,1043.9 1323.2,1026.7Z" fill="#fff"/>
<text transform="translate(1367.4,985) scale(1,1.04)" font-size="20.3" fill="#fff" stroke="#fff" stroke-width="0.19" text-anchor="middle">SODIUM</text>
<text transform="translate(1368.7,1014.5) scale(1,1.04)" font-size="20.3" stroke="#000" stroke-width="0.19" text-anchor="middle">390mg</text>
<text transform="translate(1413,1102.3) scale(1,1.04)" font-size="20.5" stroke="#000" stroke-width="0.19" text-anchor="end">PER 100g</text>
</g>
<g transform="translate(1522.8,897.3) scale(0.98) translate(-798.3,-889.5)">
<path d="M998.35,939.7 H1422.9 A6.5,6.5 0 0 1 1429.4,946.2 V1100.6 A6.5,6.5 0 0 1 1422.9,1107.1 H907.6 A108.3,108.3 0 1 1 998.35,939.7Z" fill="#fff" stroke="#222" stroke-width="2.4"/>
<path d="M816.43,1034.6 A97.8,97.8 0 1 1 999.97,1034.6Z" fill="#fff" stroke="#1a1a1a" stroke-width="1.8"/>
<path d="M908.2,1000.8 L908.2,1034.6 L816.43,1034.6 A97.8,97.8 0 0 1 908.2,903Z" fill="#000"/>
<path d="M814.4,1003.3 L829.77,996.45 L831.54,979.71 L842.8,992.21 L859.26,988.72 L850.86,1003.3 L859.26,1017.88 L842.8,1014.39 L831.54,1026.89 L829.77,1010.15Z" fill="#fff" stroke="#1a1a1a" stroke-width="1.6" stroke-linejoin="miter"/>
<path d="M840.16,937.86 L855.88,943.89 L868.96,933.3 L868.09,950.11 L882.19,959.28 L865.94,963.64 L861.58,979.89 L852.41,965.79 L835.6,966.66 L846.19,953.58Z" fill="#fff" stroke="#1a1a1a" stroke-width="1.6" stroke-linejoin="miter"/>
<path d="M907.6,908.9 L914.45,924.27 L931.19,926.04 L918.69,937.3 L922.18,953.76 L907.6,945.36 L893.02,953.76 L896.51,937.3 L884.01,926.04 L900.75,924.27Z" fill="#fff" stroke="#1a1a1a" stroke-width="1.6" stroke-linejoin="miter"/>
<path d="M976.24,937.86 L970.21,953.58 L980.8,966.66 L963.99,965.79 L954.82,979.89 L950.46,963.64 L934.21,959.28 L948.31,950.11 L947.44,933.3 L960.52,943.89Z" fill="#fff" stroke="#1a1a1a" stroke-width="1.6" stroke-linejoin="miter"/>
<path d="M1000.1,1004 L984.73,1010.85 L982.96,1027.59 L971.7,1015.09 L955.24,1018.58 L963.64,1004 L955.24,989.42 L971.7,992.91 L982.96,980.41 L984.73,997.15Z" fill="#fff" stroke="#1a1a1a" stroke-width="1.6" stroke-linejoin="miter"/>
<circle cx="907.4" cy="998.1" r="39.5" fill="#fff" stroke="#1a1a1a" stroke-width="1.6"/>
<rect x="860" y="1035.5" width="95" height="6" fill="#fff"/>
<text transform="translate(877.9,1014.2) scale(1,1.04)" font-size="44.6" stroke="#000" stroke-width="0.42">2</text>
<text transform="translate(902.3,1014.2) scale(1,1.04)" font-size="32.5" stroke="#000" stroke-width="0.31">.5</text>
<text transform="translate(903.9,1057.9) scale(1,1.04)" font-size="20.76" stroke="#000" stroke-width="0.2" text-anchor="middle">HEALTH STAR</text>
<text transform="translate(903.9,1082.6) scale(1,1.04)" font-size="20.76" stroke="#000" stroke-width="0.2" text-anchor="middle">RATING</text>
<path d="M1014.1,958 Q1064.6,939 1115.1,958 V1064 Q1064.6,1087 1014.1,1064Z" fill="#fff" stroke="#2a2a2a" stroke-width="2.3"/>
<path d="M1018.1,963 Q1064.6,946 1111.9,963 V1061.5 Q1064.6,1080 1018.1,1061.5Z" fill="#000"/>
<path d="M1018.1,997.3 Q1064.6,985.1 1111.9,997.3 V1026.7 Q1064.6,1043.9 1018.1,1026.7Z" fill="#fff"/>
<text transform="translate(1065.1,985) scale(1,1.04)" font-size="20.76" fill="#fff" stroke="#fff" stroke-width="0.2" text-anchor="middle">ENERGY</text>
<text transform="translate(1058.8,1014.5) scale(1,1.04)" font-size="20.76" stroke="#000" stroke-width="0.2" text-anchor="middle">387kcal</text>
<path d="M1115.8,958 Q1166.3,939 1216.8,958 V1064 Q1166.3,1087 1115.8,1064Z" fill="#fff" stroke="#2a2a2a" stroke-width="2.3"/>
<path d="M1119.8,963 Q1166.3,946 1213.6,963 V1061.5 Q1166.3,1080 1119.8,1061.5Z" fill="#000"/>
<path d="M1119.8,997.3 Q1166.3,985.1 1213.6,997.3 V1026.7 Q1166.3,1043.9 1119.8,1026.7Z" fill="#fff"/>
<text transform="translate(1165.8,985) scale(1,1.04)" font-size="20.76" fill="#fff" stroke="#fff" stroke-width="0.2" text-anchor="middle">SAT FAT</text>
<text transform="translate(1163.3,1014.5) scale(1,1.04)" font-size="20.76" stroke="#000" stroke-width="0.2" text-anchor="middle">1g</text>
<path d="M1217.5,958 Q1268,939 1318.5,958 V1064 Q1268,1087 1217.5,1064Z" fill="#fff" stroke="#2a2a2a" stroke-width="2.3"/>
<path d="M1221.5,963 Q1268,946 1315.3,963 V1061.5 Q1268,1080 1221.5,1061.5Z" fill="#000"/>
<path d="M1221.5,997.3 Q1268,985.1 1315.3,997.3 V1026.7 Q1268,1043.9 1221.5,1026.7Z" fill="#fff"/>
<text transform="translate(1275,985) scale(1,1.04)" font-size="20.76" fill="#fff" stroke="#fff" stroke-width="0.2" text-anchor="middle">SUGARS</text>
<text transform="translate(1264,1014.5) scale(1,1.04)" font-size="20.76" stroke="#000" stroke-width="0.2" text-anchor="middle">30g</text>
<path d="M1319.2,958 Q1369.7,939 1420.2,958 V1064 Q1369.7,1087 1319.2,1064Z" fill="#fff" stroke="#2a2a2a" stroke-width="2.3"/>
<path d="M1323.2,963 Q1369.7,946 1417,963 V1061.5 Q1369.7,1080 1323.2,1061.5Z" fill="#000"/>
<path d="M1323.2,997.3 Q1369.7,985.1 1417,997.3 V1026.7 Q1369.7,1043.9 1323.2,1026.7Z" fill="#fff"/>
<text transform="translate(1369.2,985) scale(1,1.04)" font-size="20.76" fill="#fff" stroke="#fff" stroke-width="0.2" text-anchor="middle">SODIUM</text>
<text transform="translate(1368.7,1014.5) scale(1,1.04)" font-size="20.76" stroke="#000" stroke-width="0.2" text-anchor="middle">295mg</text>
<text transform="translate(1413,1102.3) scale(1,1.04)" font-size="20.96" stroke="#000" stroke-width="0.2" text-anchor="end">PER 100g</text>
</g>
<g transform="translate(2260.6,902.1) scale(0.99) translate(-798.3,-889.5)">
<path d="M998.35,939.7 H1422.9 A6.5,6.5 0 0 1 1429.4,946.2 V1100.6 A6.5,6.5 0 0 1 1422.9,1107.1 H907.6 A108.3,108.3 0 1 1 998.35,939.7Z" fill="#fff" stroke="#222" stroke-width="2.4"/>
<path d="M816.43,1034.6 A97.8,97.8 0 1 1 999.97,1034.6Z" fill="#fff" stroke="#1a1a1a" stroke-width="1.8"/>
<path d="M908.2,1000.8 L908.2,1034.6 L816.43,1034.6 A97.8,97.8 0 0 1 835.52,935.36Z" fill="#000"/>
<path d="M814.4,1003.3 L829.77,996.45 L831.54,979.71 L842.8,992.21 L859.26,988.72 L850.86,1003.3 L859.26,1017.88 L842.8,1014.39 L831.54,1026.89 L829.77,1010.15Z" fill="#fff" stroke="#1a1a1a" stroke-width="1.6" stroke-linejoin="miter"/>
<path d="M840.16,937.86 L855.88,943.89 L868.96,933.3 L868.09,950.11 L882.19,959.28 L865.94,963.64 L861.58,979.89 L852.41,965.79 L835.6,966.66 L846.19,953.58Z" fill="#fff" stroke="#1a1a1a" stroke-width="1.6" stroke-linejoin="miter"/>
<path d="M907.6,908.9 L914.45,924.27 L931.19,926.04 L918.69,937.3 L922.18,953.76 L907.6,945.36 L893.02,953.76 L896.51,937.3 L884.01,926.04 L900.75,924.27Z" fill="#fff" stroke="#1a1a1a" stroke-width="1.6" stroke-linejoin="miter"/>
<path d="M976.24,937.86 L970.21,953.58 L980.8,966.66 L963.99,965.79 L954.82,979.89 L950.46,963.64 L934.21,959.28 L948.31,950.11 L947.44,933.3 L960.52,943.89Z" fill="#fff" stroke="#1a1a1a" stroke-width="1.6" stroke-linejoin="miter"/>
<path d="M1000.1,1004 L984.73,1010.85 L982.96,1027.59 L971.7,1015.09 L955.24,1018.58 L963.64,1004 L955.24,989.42 L971.7,992.91 L982.96,980.41 L984.73,997.15Z" fill="#fff" stroke="#1a1a1a" stroke-width="1.6" stroke-linejoin="miter"/>
<circle cx="907.4" cy="998.1" r="39.5" fill="#fff" stroke="#1a1a1a" stroke-width="1.6"/>
<rect x="860" y="1035.5" width="95" height="6" fill="#fff"/>
<text transform="translate(873.1,1014.2) scale(1,1.04)" font-size="44.6" stroke="#000" stroke-width="0.42">1</text>
<text transform="translate(897.5,1014.2) scale(1,1.04)" font-size="32.5" stroke="#000" stroke-width="0.31">.5</text>
<text transform="translate(896,1057.9) scale(1,1.04)" font-size="20.4" stroke="#000" stroke-width="0.19" text-anchor="middle">HEALTH STAR</text>
<text transform="translate(896,1082.6) scale(1,1.04)" font-size="20.4" stroke="#000" stroke-width="0.19" text-anchor="middle">RATING</text>
<path d="M1014.1,958 Q1064.6,939 1115.1,958 V1064 Q1064.6,1087 1014.1,1064Z" fill="#fff" stroke="#2a2a2a" stroke-width="2.3"/>
<path d="M1018.1,963 Q1064.6,946 1111.9,963 V1061.5 Q1064.6,1080 1018.1,1061.5Z" fill="#000"/>
<path d="M1018.1,997.3 Q1064.6,985.1 1111.9,997.3 V1026.7 Q1064.6,1043.9 1018.1,1026.7Z" fill="#fff"/>
<text transform="translate(1064.1,985) scale(1,1.04)" font-size="20.4" fill="#fff" stroke="#fff" stroke-width="0.19" text-anchor="middle">ENERGY</text>
<text transform="translate(1061.6,1014.5) scale(1,1.04)" font-size="20.4" stroke="#000" stroke-width="0.19" text-anchor="middle">452kcal</text>
<path d="M1115.8,958 Q1166.3,939 1216.8,958 V1064 Q1166.3,1087 1115.8,1064Z" fill="#fff" stroke="#2a2a2a" stroke-width="2.3"/>
<path d="M1119.8,963 Q1166.3,946 1213.6,963 V1061.5 Q1166.3,1080 1119.8,1061.5Z" fill="#000"/>
<path d="M1119.8,997.3 Q1166.3,985.1 1213.6,997.3 V1026.7 Q1166.3,1043.9 1119.8,1026.7Z" fill="#fff"/>
<text transform="translate(1165.8,985) scale(1,1.04)" font-size="20.4" fill="#fff" stroke="#fff" stroke-width="0.19" text-anchor="middle">SAT FAT</text>
<text transform="translate(1161.6,1014.5) scale(1,1.04)" font-size="20.4" stroke="#000" stroke-width="0.19" text-anchor="middle">4g</text>
<path d="M1217.5,958 Q1268,939 1318.5,958 V1064 Q1268,1087 1217.5,1064Z" fill="#fff" stroke="#2a2a2a" stroke-width="2.3"/>
<path d="M1221.5,963 Q1268,946 1315.3,963 V1061.5 Q1268,1080 1221.5,1061.5Z" fill="#000"/>
<path d="M1221.5,997.3 Q1268,985.1 1315.3,997.3 V1026.7 Q1268,1043.9 1221.5,1026.7Z" fill="#fff"/>
<text transform="translate(1267.5,985) scale(1,1.04)" font-size="20.4" fill="#fff" stroke="#fff" stroke-width="0.19" text-anchor="middle">SUGARS</text>
<text transform="translate(1268.3,1014.5) scale(1,1.04)" font-size="20.4" stroke="#000" stroke-width="0.19" text-anchor="middle">29g</text>
<path d="M1319.2,958 Q1369.7,939 1420.2,958 V1064 Q1369.7,1087 1319.2,1064Z" fill="#fff" stroke="#2a2a2a" stroke-width="2.3"/>
<path d="M1323.2,963 Q1369.7,946 1417,963 V1061.5 Q1369.7,1080 1323.2,1061.5Z" fill="#000"/>
<path d="M1323.2,997.3 Q1369.7,985.1 1417,997.3 V1026.7 Q1369.7,1043.9 1323.2,1026.7Z" fill="#fff"/>
<text transform="translate(1369.2,985) scale(1,1.04)" font-size="20.4" fill="#fff" stroke="#fff" stroke-width="0.19" text-anchor="middle">SODIUM</text>
<text transform="translate(1370.9,1014.5) scale(1,1.04)" font-size="20.4" stroke="#000" stroke-width="0.19" text-anchor="middle">445mg</text>
<text transform="translate(1413,1102.3) scale(1,1.04)" font-size="20.61" stroke="#000" stroke-width="0.2" text-anchor="end">PER 100g</text>
</g>
<g>
<rect x="873" y="1185.2" width="582" height="3.2" fill="#ededed"/>
<text transform="translate(911.4,1222.3) scale(1,1.04)" font-size="27.6" stroke="#000" stroke-width="0.26">Each 30g serve contains</text>
<path d="M877.6,1263.2 A19,19 0 0 1 896.6,1244.2 H968.2 A19,19 0 0 1 987.2,1263.2 V1386.3 A54.8,50 0 0 1 877.6,1386.3Z" fill="#fff" stroke="#111" stroke-width="3.6"/>
<path d="M990.7,1258.2 A16,16 0 0 1 1006.7,1242.2 H1088.3 A16,16 0 0 1 1104.3,1258.2 V1397.7 A56.8,40 0 0 1 990.7,1397.7Z" fill="#F6A92B"/>
<rect x="995.9" y="1287.6" width="103.6" height="110.1" fill="#fff"/>
<ellipse cx="1047.5" cy="1397.7" rx="56.8" ry="41" fill="#F6A92B"/>
<path d="M1105.9,1258.2 A16,16 0 0 1 1121.9,1242.2 H1203.5 A16,16 0 0 1 1219.5,1258.2 V1397.7 A56.8,40 0 0 1 1105.9,1397.7Z" fill="#8CC53F"/>
<rect x="1111.1" y="1287.6" width="103.6" height="110.1" fill="#fff"/>
<ellipse cx="1162.7" cy="1397.7" rx="56.8" ry="41" fill="#8CC53F"/>
<path d="M1221,1258.2 A16,16 0 0 1 1237,1242.2 H1318.6 A16,16 0 0 1 1334.6,1258.2 V1397.7 A56.8,40 0 0 1 1221,1397.7Z" fill="#8CC53F"/>
<rect x="1226.2" y="1287.6" width="103.6" height="110.1" fill="#fff"/>
<ellipse cx="1277.8" cy="1397.7" rx="56.8" ry="41" fill="#8CC53F"/>
<path d="M1336.2,1258.2 A16,16 0 0 1 1352.2,1242.2 H1433.8 A16,16 0 0 1 1449.8,1258.2 V1397.7 A56.8,40 0 0 1 1336.2,1397.7Z" fill="#F6A92B"/>
<rect x="1341.4" y="1287.6" width="103.6" height="110.1" fill="#fff"/>
<ellipse cx="1393" cy="1397.7" rx="56.8" ry="41" fill="#F6A92B"/>
<text transform="translate(935.9,1274.3) scale(1,1.04)" font-size="20.5" stroke="#000" stroke-width="0.19" text-anchor="middle">ENERGY</text>
<text transform="translate(932.1,1328.7) scale(1,1.04)" font-size="20.5" stroke="#000" stroke-width="0.19" text-anchor="middle">113kcal</text>
<text transform="translate(928.5,1389.4) scale(1,1.04)" font-size="20.5" stroke="#000" stroke-width="0.19" text-anchor="middle">6%</text>
<text transform="translate(1042.1,1272.1) scale(1,1.04)" font-size="20.5" stroke="#000" stroke-width="0.19" text-anchor="middle">HIGH</text>
<text transform="translate(1036.5,1306.9) scale(1,1.04)" font-size="20.5" stroke="#000" stroke-width="0.19" text-anchor="middle">Sugars</text>
<text transform="translate(1038.5,1336.5) scale(1,1.04)" font-size="20.5" stroke="#000" stroke-width="0.19" text-anchor="middle">2.4g</text>
<text transform="translate(1051.3,1409) scale(1,1.04)" font-size="20.5" stroke="#000" stroke-width="0.19" text-anchor="middle">3%</text>
<text transform="translate(1158.6,1272.1) scale(1,1.04)" font-size="20.5" stroke="#000" stroke-width="0.19" text-anchor="middle">LOW</text>
<text transform="translate(1157.2,1304.8) scale(1,1.04)" font-size="20.5" stroke="#000" stroke-width="0.19" text-anchor="middle">Fats</text>
<text transform="translate(1156.1,1334.3) scale(1,1.04)" font-size="20.5" stroke="#000" stroke-width="0.19" text-anchor="middle">0.2g</text>
<text transform="translate(1165.8,1409) scale(1,1.04)" font-size="20.5" stroke="#000" stroke-width="0.19" text-anchor="middle">&lt;1%</text>
<text transform="translate(1262,1272.1) scale(1,1.04)" font-size="20.5" stroke="#000" stroke-width="0.19" text-anchor="middle">LOW</text>
<text transform="translate(1275,1306.9) scale(1,1.04)" font-size="20.5" stroke="#000" stroke-width="0.19" text-anchor="middle">Saturates</text>
<text transform="translate(1264.6,1336.5) scale(1,1.04)" font-size="20.5" stroke="#000" stroke-width="0.19" text-anchor="middle">&lt;0.1g</text>
<text transform="translate(1278.1,1409) scale(1,1.04)" font-size="20.5" stroke="#000" stroke-width="0.19" text-anchor="middle">&lt;1%</text>
<text transform="translate(1378.4,1272.1) scale(1,1.04)" font-size="20.5" stroke="#000" stroke-width="0.19" text-anchor="middle">MED</text>
<text transform="translate(1385.5,1304.8) scale(1,1.04)" font-size="20.5" stroke="#000" stroke-width="0.19" text-anchor="middle">Salt</text>
<text transform="translate(1384.1,1333.4) scale(1,1.04)" font-size="20.5" stroke="#000" stroke-width="0.19" text-anchor="middle">0.3g</text>
<text transform="translate(1393.6,1409) scale(1,1.04)" font-size="20.5" stroke="#000" stroke-width="0.19" text-anchor="middle">5%</text>
<text transform="translate(1134.4,1473.5) scale(1,1.04)" font-size="27.5" stroke="#000" stroke-width="0.26" text-anchor="middle">of an adult’s reference intake</text>
<text transform="translate(1134.4,1507.7) scale(1,1.04)" font-size="27.5" stroke="#000" stroke-width="0.26" text-anchor="middle">Typical values per 100g:Energy 378kcal</text>
</g>
<g>
<rect x="1587" y="1195.4" width="579" height="3.2" fill="#ededed"/>
<text transform="translate(1618.9,1229.8) scale(1,1.04)" font-size="27.6" stroke="#000" stroke-width="0.26">Each 30g serve contains</text>
<path d="M1590,1267.9 A19,19 0 0 1 1609,1248.9 H1679.7 A19,19 0 0 1 1698.7,1267.9 V1389.7 A54.35,50 0 0 1 1590,1389.7Z" fill="#fff" stroke="#111" stroke-width="3.6"/>
<path d="M1703.2,1262.3 A16,16 0 0 1 1719.2,1246.3 H1801.4 A16,16 0 0 1 1817.4,1262.3 V1400.8 A57.1,40 0 0 1 1703.2,1400.8Z" fill="#E8372C"/>
<rect x="1708.4" y="1292.3" width="104.2" height="108.5" fill="#fff"/>
<ellipse cx="1760.3" cy="1400.8" rx="57.1" ry="41" fill="#E8372C"/>
<path d="M1819,1262.3 A16,16 0 0 1 1835,1246.3 H1916 A16,16 0 0 1 1932,1262.3 V1400.8 A56.5,40 0 0 1 1819,1400.8Z" fill="#8CC53F"/>
<rect x="1824.2" y="1292.3" width="103" height="108.5" fill="#fff"/>
<ellipse cx="1875.5" cy="1400.8" rx="56.5" ry="41" fill="#8CC53F"/>
<path d="M1933.5,1262.3 A16,16 0 0 1 1949.5,1246.3 H2030.2 A16,16 0 0 1 2046.2,1262.3 V1400.8 A56.35,40 0 0 1 1933.5,1400.8Z" fill="#8CC53F"/>
<rect x="1938.7" y="1292.3" width="102.7" height="108.5" fill="#fff"/>
<ellipse cx="1989.85" cy="1400.8" rx="56.35" ry="41" fill="#8CC53F"/>
<path d="M2047.7,1262.3 A16,16 0 0 1 2063.7,1246.3 H2145.3 A16,16 0 0 1 2161.3,1262.3 V1400.8 A56.8,40 0 0 1 2047.7,1400.8Z" fill="#F6A92B"/>
<rect x="2052.9" y="1292.3" width="103.6" height="108.5" fill="#fff"/>
<ellipse cx="2104.5" cy="1400.8" rx="56.8" ry="41" fill="#F6A92B"/>
<text transform="translate(1643.1,1277.4) scale(1,1.04)" font-size="20.5" stroke="#000" stroke-width="0.19" text-anchor="middle">ENERGY</text>
<text transform="translate(1644.4,1336.5) scale(1,1.04)" font-size="20.5" stroke="#000" stroke-width="0.19" text-anchor="middle">116 kcal</text>
<text transform="translate(1641.6,1398.8) scale(1,1.04)" font-size="20.5" stroke="#000" stroke-width="0.19" text-anchor="middle">6%</text>
<text transform="translate(1742,1273.6) scale(1,1.04)" font-size="20.5" stroke="#000" stroke-width="0.19" text-anchor="middle">HIGH</text>
<text transform="translate(1754.4,1312.5) scale(1,1.04)" font-size="20.5" stroke="#000" stroke-width="0.19" text-anchor="middle">Sugars</text>
<text transform="translate(1754.1,1345.2) scale(1,1.04)" font-size="20.5" stroke="#000" stroke-width="0.19" text-anchor="middle">9g</text>
<text transform="translate(1764.8,1408.1) scale(1,1.04)" font-size="20.5" stroke="#000" stroke-width="0.19" text-anchor="middle">10%</text>
<text transform="translate(1865.2,1273.6) scale(1,1.04)" font-size="20.5" stroke="#000" stroke-width="0.19" text-anchor="middle">LOW</text>
<text transform="translate(1861,1312.5) scale(1,1.04)" font-size="20.5" stroke="#000" stroke-width="0.19" text-anchor="middle">Fats</text>
<text transform="translate(1870.7,1345.2) scale(1,1.04)" font-size="20.5" stroke="#000" stroke-width="0.19" text-anchor="middle">0.7g</text>
<text transform="translate(1881.7,1408.1) scale(1,1.04)" font-size="20.5" stroke="#000" stroke-width="0.19" text-anchor="middle">1%</text>
<text transform="translate(1976.5,1273.6) scale(1,1.04)" font-size="20.5" stroke="#000" stroke-width="0.19" text-anchor="middle">LOW</text>
<text transform="translate(1988.6,1312.5) scale(1,1.04)" font-size="20.5" stroke="#000" stroke-width="0.19" text-anchor="middle">Saturates</text>
<text transform="translate(1985.5,1345.2) scale(1,1.04)" font-size="20.5" stroke="#000" stroke-width="0.19" text-anchor="middle">0.3g</text>
<text transform="translate(1997.2,1408.1) scale(1,1.04)" font-size="20.5" stroke="#000" stroke-width="0.19" text-anchor="middle">2%</text>
<text transform="translate(2093.7,1273.6) scale(1,1.04)" font-size="20.5" stroke="#000" stroke-width="0.19" text-anchor="middle">MED</text>
<text transform="translate(2095.8,1312.5) scale(1,1.04)" font-size="20.5" stroke="#000" stroke-width="0.19" text-anchor="middle">Salt</text>
<text transform="translate(2098.8,1345.2) scale(1,1.04)" font-size="20.5" stroke="#000" stroke-width="0.19" text-anchor="middle">0.2g</text>
<text transform="translate(2109.2,1408.1) scale(1,1.04)" font-size="20.5" stroke="#000" stroke-width="0.19" text-anchor="middle">4%</text>
<text transform="translate(1868.8,1479) scale(1,1.04)" font-size="27.5" stroke="#000" stroke-width="0.26" text-anchor="middle">of an adult’s reference intake</text>
<text transform="translate(1869,1512.4) scale(1,1.04)" font-size="27.5" stroke="#000" stroke-width="0.26" text-anchor="middle">Typical values per 100g:Energy 387kcal</text>
</g>
<g>
<rect x="2315" y="1195.1" width="567" height="3.2" fill="#ededed"/>
<text transform="translate(2342,1228.2) scale(1,1.04)" font-size="27.6" stroke="#000" stroke-width="0.26">Each 30g serve contains</text>
<path d="M2321.3,1266.6 A19,19 0 0 1 2340.3,1247.6 H2408.2 A19,19 0 0 1 2427.2,1266.6 V1383.2 A52.95,50 0 0 1 2321.3,1383.2Z" fill="#fff" stroke="#111" stroke-width="3.6"/>
<path d="M2432.3,1260.7 A16,16 0 0 1 2448.3,1244.7 H2525.2 A16,16 0 0 1 2541.2,1260.7 V1394.5 A54.45,40 0 0 1 2432.3,1394.5Z" fill="#E8372C"/>
<rect x="2437.5" y="1287.6" width="98.9" height="106.9" fill="#fff"/>
<ellipse cx="2486.75" cy="1394.5" rx="54.45" ry="41" fill="#E8372C"/>
<path d="M2543.4,1260.7 A16,16 0 0 1 2559.4,1244.7 H2636.6 A16,16 0 0 1 2652.6,1260.7 V1394.5 A54.6,40 0 0 1 2543.4,1394.5Z" fill="#F6A92B"/>
<rect x="2548.6" y="1287.6" width="99.2" height="106.9" fill="#fff"/>
<ellipse cx="2598" cy="1394.5" rx="54.6" ry="41" fill="#F6A92B"/>
<path d="M2654.8,1260.7 A16,16 0 0 1 2670.8,1244.7 H2747.7 A16,16 0 0 1 2763.7,1260.7 V1394.5 A54.45,40 0 0 1 2654.8,1394.5Z" fill="#F6A92B"/>
<rect x="2660" y="1287.6" width="98.9" height="106.9" fill="#fff"/>
<ellipse cx="2709.25" cy="1394.5" rx="54.45" ry="41" fill="#F6A92B"/>
<path d="M2765.9,1260.7 A16,16 0 0 1 2781.9,1244.7 H2861.3 A16,16 0 0 1 2877.3,1260.7 V1394.5 A55.7,40 0 0 1 2765.9,1394.5Z" fill="#F6A92B"/>
<rect x="2771.1" y="1287.6" width="101.4" height="106.9" fill="#fff"/>
<ellipse cx="2821.6" cy="1394.5" rx="55.7" ry="41" fill="#F6A92B"/>
<text transform="translate(2373.9,1280.5) scale(1,1.04)" font-size="20.5" stroke="#000" stroke-width="0.19" text-anchor="middle">ENERGY</text>
<text transform="translate(2368.9,1335) scale(1,1.04)" font-size="20.5" stroke="#000" stroke-width="0.19" text-anchor="middle">136 kcal</text>
<text transform="translate(2374.2,1391.6) scale(1,1.04)" font-size="20.5" stroke="#000" stroke-width="0.19" text-anchor="middle">7%</text>
<text transform="translate(2481.8,1273.6) scale(1,1.04)" font-size="20.5" stroke="#000" stroke-width="0.19" text-anchor="middle">HIGH</text>
<text transform="translate(2484.4,1311.6) scale(1,1.04)" font-size="20.5" stroke="#000" stroke-width="0.19" text-anchor="middle">Sugars</text>
<text transform="translate(2484.1,1343.4) scale(1,1.04)" font-size="20.5" stroke="#000" stroke-width="0.19" text-anchor="middle">8.7g</text>
<text transform="translate(2493.3,1408.1) scale(1,1.04)" font-size="20.5" stroke="#000" stroke-width="0.19" text-anchor="middle">10%</text>
<text transform="translate(2586.5,1273.6) scale(1,1.04)" font-size="20.5" stroke="#000" stroke-width="0.19" text-anchor="middle">MED</text>
<text transform="translate(2593,1311.6) scale(1,1.04)" font-size="20.5" stroke="#000" stroke-width="0.19" text-anchor="middle">Fats</text>
<text transform="translate(2594.1,1343.4) scale(1,1.04)" font-size="20.5" stroke="#000" stroke-width="0.19" text-anchor="middle">4.8g</text>
<text transform="translate(2601.4,1408.1) scale(1,1.04)" font-size="20.5" stroke="#000" stroke-width="0.19" text-anchor="middle">7%</text>
<text transform="translate(2701.3,1273.6) scale(1,1.04)" font-size="20.5" stroke="#000" stroke-width="0.19" text-anchor="middle">MED</text>
<text transform="translate(2702,1311.6) scale(1,1.04)" font-size="20.5" stroke="#000" stroke-width="0.19" text-anchor="middle">Saturates</text>
<text transform="translate(2705.4,1343.4) scale(1,1.04)" font-size="20.5" stroke="#000" stroke-width="0.19" text-anchor="middle">1.2g</text>
<text transform="translate(2716.9,1408.1) scale(1,1.04)" font-size="20.5" stroke="#000" stroke-width="0.19" text-anchor="middle">6%</text>
<text transform="translate(2819.6,1273.6) scale(1,1.04)" font-size="20.5" stroke="#000" stroke-width="0.19" text-anchor="middle">MED</text>
<text transform="translate(2819,1311.6) scale(1,1.04)" font-size="20.5" stroke="#000" stroke-width="0.19" text-anchor="middle">Salt</text>
<text transform="translate(2816.7,1343.4) scale(1,1.04)" font-size="20.5" stroke="#000" stroke-width="0.19" text-anchor="middle">0.3g</text>
<text transform="translate(2826.8,1408.1) scale(1,1.04)" font-size="20.5" stroke="#000" stroke-width="0.19" text-anchor="middle">6%</text>
<text transform="translate(2597.7,1480.6) scale(1,1.04)" font-size="27.5" stroke="#000" stroke-width="0.26" text-anchor="middle">of an adult’s reference intake</text>
<text transform="translate(2598,1513.9) scale(1,1.04)" font-size="27.5" stroke="#000" stroke-width="0.26" text-anchor="middle">Typical values per 100g:Energy 451kcal</text>
</g>
<g>
<text transform="translate(1059,1601.8) scale(1,1.04)" font-size="34.2" fill="#7a7a7a" stroke="#7a7a7a" stroke-width="0.32" text-anchor="middle">NUTRI-SCORE</text>
<path d="M908.2,1649.7 H981.2 V1805.6 H908.2 A24,24 0 0 1 884.2,1781.6 V1673.7 A24,24 0 0 1 908.2,1649.7Z" fill="#0E8244"/>
<rect x="980.7" y="1649.7" width="97.2" height="155.9" fill="#86BC3F"/>
<rect x="1077.4" y="1649.7" width="98" height="155.9" fill="#FECB02"/>
<rect x="1174.9" y="1649.7" width="96.6" height="155.9" fill="#EE8121"/>
<path d="M1271,1649.7 H1342.9 A24,24 0 0 1 1366.9,1673.7 V1781.6 A24,24 0 0 1 1342.9,1805.6 H1271Z" fill="#E63E22"/>
<text transform="translate(926.9,1762.1) scale(0.97,1)" font-size="100" font-weight="bold" fill="#fff" stroke="#fff" stroke-width="2.2" opacity="0.42" text-anchor="middle">A</text>
<text transform="translate(1132.3,1762.1) scale(0.97,1)" font-size="100" font-weight="bold" fill="#fff" stroke="#fff" stroke-width="2.2" opacity="0.42" text-anchor="middle">C</text>
<text transform="translate(1222.3,1762.1) scale(0.97,1)" font-size="100" font-weight="bold" fill="#fff" stroke="#fff" stroke-width="2.2" opacity="0.42" text-anchor="middle">D</text>
<text transform="translate(1313.6,1762.1) scale(0.97,1)" font-size="100" font-weight="bold" fill="#fff" stroke="#fff" stroke-width="2.2" opacity="0.42" text-anchor="middle">E</text>
<rect x="965.4" y="1622.9" width="130.3" height="209.6" rx="65.15" fill="#fff"/>
<rect x="972.4" y="1629.9" width="116.3" height="195.6" rx="58.15" fill="#86BC3F"/>
<text transform="translate(1032.7,1775.9) scale(0.89,1)" font-size="135" font-weight="bold" fill="#fff" stroke="#fff" stroke-width="1.5" text-anchor="middle">B</text>
</g>
<g>
<text transform="translate(1770.9,1601.8) scale(1,1.04)" font-size="34.2" fill="#7a7a7a" stroke="#7a7a7a" stroke-width="0.32" text-anchor="middle">NUTRI-SCORE</text>
<path d="M1619.3,1643.7 H1691.7 V1799.9 H1619.3 A24,24 0 0 1 1595.3,1775.9 V1667.7 A24,24 0 0 1 1619.3,1643.7Z" fill="#0E8244"/>
<rect x="1691.2" y="1643.7" width="96.9" height="156.2" fill="#86BC3F"/>
<rect x="1787.6" y="1643.7" width="98.3" height="156.2" fill="#FECB02"/>
<rect x="1885.4" y="1643.7" width="96.1" height="156.2" fill="#EE8121"/>
<path d="M1981,1643.7 H2054.3 A24,24 0 0 1 2078.3,1667.7 V1775.9 A24,24 0 0 1 2054.3,1799.9 H1981Z" fill="#E63E22"/>
<text transform="translate(1637.8,1755.2) scale(0.97,1)" font-size="100" font-weight="bold" fill="#fff" stroke="#fff" stroke-width="2.2" opacity="0.42" text-anchor="middle">A</text>
<text transform="translate(1729.4,1755.2) scale(0.97,1)" font-size="100" font-weight="bold" fill="#fff" stroke="#fff" stroke-width="2.2" opacity="0.42" text-anchor="middle">B</text>
<text transform="translate(1939.4,1755.2) scale(0.97,1)" font-size="100" font-weight="bold" fill="#fff" stroke="#fff" stroke-width="2.2" opacity="0.42" text-anchor="middle">D</text>
<text transform="translate(2024.8,1755.2) scale(0.97,1)" font-size="100" font-weight="bold" fill="#fff" stroke="#fff" stroke-width="2.2" opacity="0.42" text-anchor="middle">E</text>
<rect x="1770.2" y="1616.8" width="128.6" height="210.2" rx="64.3" fill="#fff"/>
<rect x="1777.2" y="1623.8" width="114.6" height="196.2" rx="57.3" fill="#FECB02"/>
<text transform="translate(1831.7,1769) scale(0.89,1)" font-size="135" font-weight="bold" fill="#fff" stroke="#fff" stroke-width="1.5" text-anchor="middle">C</text>
</g>
<g>
<text transform="translate(2496.3,1601.8) scale(1,1.04)" font-size="34.2" fill="#7a7a7a" stroke="#7a7a7a" stroke-width="0.32" text-anchor="middle">NUTRI-SCORE</text>
<path d="M2371.5,1646.4 H2444.5 V1802.1 H2371.5 A24,24 0 0 1 2347.5,1778.1 V1670.4 A24,24 0 0 1 2371.5,1646.4Z" fill="#0E8244"/>
<rect x="2444" y="1646.4" width="97.7" height="155.7" fill="#86BC3F"/>
<rect x="2541.2" y="1646.4" width="96.1" height="155.7" fill="#FECB02"/>
<rect x="2636.8" y="1646.4" width="96.9" height="155.7" fill="#EE8121"/>
<path d="M2733.2,1646.4 H2807 A24,24 0 0 1 2831,1670.4 V1778.1 A24,24 0 0 1 2807,1802.1 H2733.2Z" fill="#E63E22"/>
<text transform="translate(2390.5,1758.5) scale(0.97,1)" font-size="100" font-weight="bold" fill="#fff" stroke="#fff" stroke-width="2.2" opacity="0.42" text-anchor="middle">A</text>
<text transform="translate(2497.3,1758.5) scale(0.97,1)" font-size="100" font-weight="bold" fill="#fff" stroke="#fff" stroke-width="2.2" opacity="0.42" text-anchor="middle">B</text>
<text transform="translate(2579,1758.5) scale(0.97,1)" font-size="100" font-weight="bold" fill="#fff" stroke="#fff" stroke-width="2.2" opacity="0.42" text-anchor="middle">C</text>
<text transform="translate(2789.3,1758.5) scale(0.97,1)" font-size="100" font-weight="bold" fill="#fff" stroke="#fff" stroke-width="2.2" opacity="0.42" text-anchor="middle">E</text>
<rect x="2621.5" y="1619.6" width="129.2" height="210.1" rx="64.6" fill="#fff"/>
<rect x="2628.5" y="1626.6" width="115.2" height="196.1" rx="57.6" fill="#EE8121"/>
<text transform="translate(2685.4,1772.6) scale(0.89,1)" font-size="135" font-weight="bold" fill="#fff" stroke="#fff" stroke-width="1.5" text-anchor="middle">D</text>
</g>
<g>
<text transform="translate(1120.2,1909.9) scale(1,1.04)" font-size="27.6" stroke="#000" stroke-width="0.26" text-anchor="middle">Each 30g serve contains</text>
<path d="M856.5,1953.8 Q910.45,1913 964.4,1953.8 V2075.9 Q910.45,2117.9 856.5,2075.9Z" fill="#A9D7F1"/>
<circle cx="910.45" cy="2074.1" r="39.9" fill="#fff"/>
<path d="M971.3,1953.8 Q1025.8,1913 1080.3,1953.8 V2075.9 Q1025.8,2117.9 971.3,2075.9Z" fill="#A9D7F1"/>
<circle cx="1025.8" cy="2074.1" r="39.9" fill="#fff"/>
<path d="M1087.4,1953.8 Q1141.55,1913 1195.7,1953.8 V2075.9 Q1141.55,2117.9 1087.4,2075.9Z" fill="#A9D7F1"/>
<circle cx="1141.55" cy="2074.1" r="39.9" fill="#fff"/>
<path d="M1204.1,1953.8 Q1258.3,1913 1312.5,1953.8 V2075.9 Q1258.3,2117.9 1204.1,2075.9Z" fill="#A9D7F1"/>
<circle cx="1258.3" cy="2074.1" r="39.9" fill="#fff"/>
<path d="M1320.9,1953.8 Q1375.05,1913 1429.2,1953.8 V2075.9 Q1375.05,2117.9 1320.9,2075.9Z" fill="#A9D7F1"/>
<circle cx="1375.05" cy="2074.1" r="39.9" fill="#fff"/>
<text transform="translate(909.2,1970.5) scale(1,1.04)" font-size="20.4" stroke="#000" stroke-width="0.19" text-anchor="middle">Energy</text>
<text transform="translate(909.6,2009.8) scale(1,1.04)" font-size="20.4" stroke="#000" stroke-width="0.19" text-anchor="middle">113kcal</text>
<text transform="translate(906.8,2077.3) scale(1,1.04)" font-size="20.4" stroke="#000" stroke-width="0.19" text-anchor="middle">6%</text>
<text transform="translate(1026.1,1970.5) scale(1,1.04)" font-size="20.4" stroke="#000" stroke-width="0.19" text-anchor="middle">Sugars</text>
<text transform="translate(1024.7,2009.8) scale(1,1.04)" font-size="20.4" stroke="#000" stroke-width="0.19" text-anchor="middle">2.4g</text>
<text transform="translate(1028.3,2077.3) scale(1,1.04)" font-size="20.4" stroke="#000" stroke-width="0.19" text-anchor="middle">3%</text>
<text transform="translate(1146.6,1970.5) scale(1,1.04)" font-size="20.4" stroke="#000" stroke-width="0.19" text-anchor="middle">Fat</text>
<text transform="translate(1143.8,2009.8) scale(1,1.04)" font-size="20.4" stroke="#000" stroke-width="0.19" text-anchor="middle">0.2g</text>
<text transform="translate(1151.1,2077.3) scale(1,1.04)" font-size="20.4" stroke="#000" stroke-width="0.19" text-anchor="middle">&lt;1%</text>
<text transform="translate(1257.4,1970.5) scale(1,1.04)" font-size="20.4" stroke="#000" stroke-width="0.19" text-anchor="middle">Saturates</text>
<text transform="translate(1257.5,2009.8) scale(1,1.04)" font-size="20.4" stroke="#000" stroke-width="0.19" text-anchor="middle">&lt;0.1g</text>
<text transform="translate(1265.3,2077.3) scale(1,1.04)" font-size="20.4" stroke="#000" stroke-width="0.19" text-anchor="middle">&lt;1%</text>
<text transform="translate(1375.5,1970.5) scale(1,1.04)" font-size="20.4" stroke="#000" stroke-width="0.19" text-anchor="middle">Salt</text>
<text transform="translate(1375.6,2009.8) scale(1,1.04)" font-size="20.4" stroke="#000" stroke-width="0.19" text-anchor="middle">0.3g</text>
<text transform="translate(1377.7,2077.3) scale(1,1.04)" font-size="20.4" stroke="#000" stroke-width="0.19" text-anchor="middle">5%</text>
<text transform="translate(1118.6,2130.8) scale(1,1.04)" font-size="27.5" stroke="#000" stroke-width="0.26" text-anchor="middle">of an adult’s Reference intake</text>
</g>
<g>
<text transform="translate(1855,1910.8) scale(1,1.04)" font-size="27.6" stroke="#000" stroke-width="0.26" text-anchor="middle">Each 30g serve contains</text>
<path d="M1554,1956.1 Q1608.45,1915.3 1662.9,1956.1 V2078.2 Q1608.45,2120.2 1554,2078.2Z" fill="#A9D7F1"/>
<circle cx="1608.45" cy="2076.4" r="39.9" fill="#fff"/>
<path d="M1671.3,1956.1 Q1725.95,1915.3 1780.6,1956.1 V2078.2 Q1725.95,2120.2 1671.3,2078.2Z" fill="#A9D7F1"/>
<circle cx="1725.95" cy="2076.4" r="39.9" fill="#fff"/>
<path d="M1789.9,1956.1 Q1844.2,1915.3 1898.5,1956.1 V2078.2 Q1844.2,2120.2 1789.9,2078.2Z" fill="#A9D7F1"/>
<circle cx="1844.2" cy="2076.4" r="39.9" fill="#fff"/>
<path d="M1907.3,1956.1 Q1961.75,1915.3 2016.2,1956.1 V2078.2 Q1961.75,2120.2 1907.3,2078.2Z" fill="#A9D7F1"/>
<circle cx="1961.75" cy="2076.4" r="39.9" fill="#fff"/>
<path d="M2024.9,1956.1 Q2079.7,1915.3 2134.5,1956.1 V2078.2 Q2079.7,2120.2 2024.9,2078.2Z" fill="#A9D7F1"/>
<circle cx="2079.7" cy="2076.4" r="39.9" fill="#fff"/>
<text transform="translate(1610.3,1970.5) scale(1,1.04)" font-size="20.4" stroke="#000" stroke-width="0.19" text-anchor="middle">Energy</text>
<text transform="translate(1614.4,2009.8) scale(1,1.04)" font-size="20.4" stroke="#000" stroke-width="0.19" text-anchor="middle">116 kcal</text>
<text transform="translate(1607.1,2077.3) scale(1,1.04)" font-size="20.4" stroke="#000" stroke-width="0.19" text-anchor="middle">6%</text>
<text transform="translate(1728.3,1970.5) scale(1,1.04)" font-size="20.4" stroke="#000" stroke-width="0.19" text-anchor="middle">Sugars</text>
<text transform="translate(1729.4,2009.8) scale(1,1.04)" font-size="20.4" stroke="#000" stroke-width="0.19" text-anchor="middle">9g</text>
<text transform="translate(1728,2077.3) scale(1,1.04)" font-size="20.4" stroke="#000" stroke-width="0.19" text-anchor="middle">10%</text>
<text transform="translate(1845.6,1970.5) scale(1,1.04)" font-size="20.4" stroke="#000" stroke-width="0.19" text-anchor="middle">Fat</text>
<text transform="translate(1843.1,2009.8) scale(1,1.04)" font-size="20.4" stroke="#000" stroke-width="0.19" text-anchor="middle">0.7g</text>
<text transform="translate(1847,2077.3) scale(1,1.04)" font-size="20.4" stroke="#000" stroke-width="0.19" text-anchor="middle">1%</text>
<text transform="translate(1962.2,1970.5) scale(1,1.04)" font-size="20.4" stroke="#000" stroke-width="0.19" text-anchor="middle">Saturates</text>
<text transform="translate(1965.3,2009.8) scale(1,1.04)" font-size="20.4" stroke="#000" stroke-width="0.19" text-anchor="middle">0.3g</text>
<text transform="translate(1965.6,2077.3) scale(1,1.04)" font-size="20.4" stroke="#000" stroke-width="0.19" text-anchor="middle">2%</text>
<text transform="translate(2083.9,1970.5) scale(1,1.04)" font-size="20.4" stroke="#000" stroke-width="0.19" text-anchor="middle">Salt</text>
<text transform="translate(2083.6,2009.8) scale(1,1.04)" font-size="20.4" stroke="#000" stroke-width="0.19" text-anchor="middle">0.2g</text>
<text transform="translate(2082.3,2077.3) scale(1,1.04)" font-size="20.4" stroke="#000" stroke-width="0.19" text-anchor="middle">4%</text>
<text transform="translate(1840.8,2130.8) scale(1,1.04)" font-size="27.5" stroke="#000" stroke-width="0.26" text-anchor="middle">of an adult’s Reference intake</text>
</g>
<g>
<text transform="translate(2555.4,1901.7) scale(1,1.04)" font-size="27.6" stroke="#000" stroke-width="0.26" text-anchor="middle">Each 30g serve contains</text>
<path d="M2258.1,1955.42 Q2315.35,1912.18 2372.6,1955.42 V2084.85 Q2315.35,2129.37 2258.1,2084.85Z" fill="#A9D7F1"/>
<circle cx="2315.35" cy="2082.94" r="42.29" fill="#fff"/>
<path d="M2381.2,1955.42 Q2438.8,1912.18 2496.4,1955.42 V2084.85 Q2438.8,2129.37 2381.2,2084.85Z" fill="#A9D7F1"/>
<circle cx="2438.8" cy="2082.94" r="42.29" fill="#fff"/>
<path d="M2505,1955.42 Q2562.6,1912.18 2620.2,1955.42 V2084.85 Q2562.6,2129.37 2505,2084.85Z" fill="#A9D7F1"/>
<circle cx="2562.6" cy="2082.94" r="42.29" fill="#fff"/>
<path d="M2628.7,1955.42 Q2686.15,1912.18 2743.6,1955.42 V2084.85 Q2686.15,2129.37 2628.7,2084.85Z" fill="#A9D7F1"/>
<circle cx="2686.15" cy="2082.94" r="42.29" fill="#fff"/>
<path d="M2752.1,1955.42 Q2810.25,1912.18 2868.4,1955.42 V2084.85 Q2810.25,2129.37 2752.1,2084.85Z" fill="#A9D7F1"/>
<circle cx="2810.25" cy="2082.94" r="42.29" fill="#fff"/>
<text transform="translate(2317.8,1970.7) scale(1,1.04)" font-size="20.4" stroke="#000" stroke-width="0.19" text-anchor="middle">Energy</text>
<text transform="translate(2318.3,2010) scale(1,1.04)" font-size="20.4" stroke="#000" stroke-width="0.19" text-anchor="middle">136 kcal</text>
<text transform="translate(2315.4,2077.4) scale(1,1.04)" font-size="20.4" stroke="#000" stroke-width="0.19" text-anchor="middle">7%</text>
<text transform="translate(2438.3,1970.7) scale(1,1.04)" font-size="20.4" stroke="#000" stroke-width="0.19" text-anchor="middle">Sugars</text>
<text transform="translate(2439.1,2010) scale(1,1.04)" font-size="20.4" stroke="#000" stroke-width="0.19" text-anchor="middle">8.7g</text>
<text transform="translate(2440.9,2077.4) scale(1,1.04)" font-size="20.4" stroke="#000" stroke-width="0.19" text-anchor="middle">10%</text>
<text transform="translate(2559.3,1970.7) scale(1,1.04)" font-size="20.4" stroke="#000" stroke-width="0.19" text-anchor="middle">Fat</text>
<text transform="translate(2563.2,2010) scale(1,1.04)" font-size="20.4" stroke="#000" stroke-width="0.19" text-anchor="middle">4.8g</text>
<text transform="translate(2562.2,2077.4) scale(1,1.04)" font-size="20.4" stroke="#000" stroke-width="0.19" text-anchor="middle">7%</text>
<text transform="translate(2689.6,1970.7) scale(1,1.04)" font-size="20.4" stroke="#000" stroke-width="0.19" text-anchor="middle">Saturates</text>
<text transform="translate(2685,2010) scale(1,1.04)" font-size="20.4" stroke="#000" stroke-width="0.19" text-anchor="middle">1.2g</text>
<text transform="translate(2685.3,2077.4) scale(1,1.04)" font-size="20.4" stroke="#000" stroke-width="0.19" text-anchor="middle">6%</text>
<text transform="translate(2814.4,1970.7) scale(1,1.04)" font-size="20.4" stroke="#000" stroke-width="0.19" text-anchor="middle">Salt</text>
<text transform="translate(2811.8,2010) scale(1,1.04)" font-size="20.4" stroke="#000" stroke-width="0.19" text-anchor="middle">0.3g</text>
<text transform="translate(2809.4,2077.4) scale(1,1.04)" font-size="20.4" stroke="#000" stroke-width="0.19" text-anchor="middle">6%</text>
<text transform="translate(2565.3,2130.7) scale(1,1.04)" font-size="27.5" stroke="#000" stroke-width="0.26" text-anchor="middle">of an adult’s Reference intake</text>
</g>
<g>
<path d="M1093.26,2194.85 L1201.74,2194.85 L1278.45,2271.56 L1278.45,2380.04 L1201.74,2456.75 L1093.26,2456.75 L1016.55,2380.04 L1016.55,2271.56Z" fill="#fff" stroke="#1a1413" stroke-width="1.7"/>
<path d="M1098.89,2208.45 L1196.11,2208.45 L1264.85,2277.19 L1264.85,2374.41 L1196.11,2443.15 L1098.89,2443.15 L1030.15,2374.41 L1030.15,2277.19Z" fill="#fff" stroke="#1a1413" stroke-width="3"/>
<path d="M1103.41,2219.35 L1191.59,2219.35 L1253.95,2281.71 L1253.95,2369.89 L1191.59,2432.25 L1103.41,2432.25 L1041.05,2369.89 L1041.05,2281.71Z" fill="#1d1411"/>
<rect x="1071" y="2271" width="159.5" height="101" fill="#000" filter="url(#blur2)"/>
<text transform="translate(1146.6,2308.3) scale(1,1.04)" font-size="34.4" fill="#fff" stroke="#fff" stroke-width="0.7" text-anchor="middle">HIGH IN</text>
<text transform="translate(1146.4,2350.3) scale(1,1.04)" font-size="34.4" fill="#fff" stroke="#fff" stroke-width="0.7" text-anchor="middle">CALORIES</text>
</g>
<g>
<path d="M1611.96,2188.95 L1720.44,2188.95 L1797.15,2265.66 L1797.15,2374.14 L1720.44,2450.85 L1611.96,2450.85 L1535.25,2374.14 L1535.25,2265.66Z" fill="#fff" stroke="#1a1413" stroke-width="1.7"/>
<path d="M1617.59,2202.55 L1714.81,2202.55 L1783.55,2271.29 L1783.55,2368.51 L1714.81,2437.25 L1617.59,2437.25 L1548.85,2368.51 L1548.85,2271.29Z" fill="#fff" stroke="#1a1413" stroke-width="3"/>
<path d="M1622.11,2213.45 L1710.29,2213.45 L1772.65,2275.81 L1772.65,2363.99 L1710.29,2426.35 L1622.11,2426.35 L1559.75,2363.99 L1559.75,2275.81Z" fill="#1d1411"/>
<rect x="1588" y="2273" width="165" height="80" fill="#000" filter="url(#blur2)"/>
<text transform="translate(1666,2307.8) scale(1,1.04)" font-size="34.4" fill="#fff" stroke="#fff" stroke-width="0.7" text-anchor="middle">HIGH IN</text>
<text transform="translate(1666.5,2349.6) scale(1,1.04)" font-size="34.4" fill="#fff" stroke="#fff" stroke-width="0.7" text-anchor="middle">CALORIES</text>
</g>
<g>
<path d="M1920.01,2195.1 L2025.39,2195.1 L2099.9,2269.61 L2099.9,2374.99 L2025.39,2449.5 L1920.01,2449.5 L1845.5,2374.99 L1845.5,2269.61Z" fill="#fff" stroke="#1a1413" stroke-width="1.7"/>
<path d="M1925.65,2208.7 L2019.75,2208.7 L2086.3,2275.25 L2086.3,2369.35 L2019.75,2435.9 L1925.65,2435.9 L1859.1,2369.35 L1859.1,2275.25Z" fill="#fff" stroke="#1a1413" stroke-width="3"/>
<path d="M1930.16,2219.6 L2015.24,2219.6 L2075.4,2279.76 L2075.4,2364.84 L2015.24,2425 L1930.16,2425 L1870,2364.84 L1870,2279.76Z" fill="#1d1411"/>
<rect x="1905" y="2274" width="134" height="85" fill="#000" filter="url(#blur2)"/>
<text transform="translate(1969.4,2307.8) scale(1,1.04)" font-size="34.4" fill="#fff" stroke="#fff" stroke-width="0.7" text-anchor="middle">HIGH IN</text>
<text transform="translate(1969.2,2349.6) scale(1,1.04)" font-size="34.4" fill="#fff" stroke="#fff" stroke-width="0.7" text-anchor="middle">SUGAR</text>
</g>
<g>
<path d="M2391.56,2194.1 L2499.84,2194.1 L2576.4,2270.66 L2576.4,2378.94 L2499.84,2455.5 L2391.56,2455.5 L2315,2378.94 L2315,2270.66Z" fill="#fff" stroke="#1a1413" stroke-width="1.7"/>
<path d="M2397.2,2207.7 L2494.2,2207.7 L2562.8,2276.3 L2562.8,2373.3 L2494.2,2441.9 L2397.2,2441.9 L2328.6,2373.3 L2328.6,2276.3Z" fill="#fff" stroke="#1a1413" stroke-width="3"/>
<path d="M2401.71,2218.6 L2489.69,2218.6 L2551.9,2280.81 L2551.9,2368.79 L2489.69,2431 L2401.71,2431 L2339.5,2368.79 L2339.5,2280.81Z" fill="#1d1411"/>
<rect x="2365.6" y="2276" width="172.4" height="89" fill="#000" filter="url(#blur2)"/>
<text transform="translate(2441.2,2307.8) scale(1,1.04)" font-size="34.4" fill="#fff" stroke="#fff" stroke-width="0.7" text-anchor="middle">HIGH IN</text>
<text transform="translate(2441.7,2349.6) scale(1,1.04)" font-size="34.4" fill="#fff" stroke="#fff" stroke-width="0.7" text-anchor="middle">CALORIES</text>
</g>
<g>
<path d="M2699.41,2200.45 L2804.99,2200.45 L2879.65,2275.11 L2879.65,2380.69 L2804.99,2455.35 L2699.41,2455.35 L2624.75,2380.69 L2624.75,2275.11Z" fill="#fff" stroke="#1a1413" stroke-width="1.7"/>
<path d="M2705.04,2214.05 L2799.36,2214.05 L2866.05,2280.74 L2866.05,2375.06 L2799.36,2441.75 L2705.04,2441.75 L2638.35,2375.06 L2638.35,2280.74Z" fill="#fff" stroke="#1a1413" stroke-width="3"/>
<path d="M2709.56,2224.95 L2794.84,2224.95 L2855.15,2285.26 L2855.15,2370.54 L2794.84,2430.85 L2709.56,2430.85 L2649.25,2370.54 L2649.25,2285.26Z" fill="#1d1411"/>
<rect x="2685" y="2279.4" width="147" height="92.6" fill="#000" filter="url(#blur2)"/>
<text transform="translate(2747,2307.8) scale(1,1.04)" font-size="34.4" fill="#fff" stroke="#fff" stroke-width="0.7" text-anchor="middle">HIGH IN</text>
<text transform="translate(2746.9,2349.6) scale(1,1.04)" font-size="34.4" fill="#fff" stroke="#fff" stroke-width="0.7" text-anchor="middle">SUGAR</text>
</g>
<g>
<path d="M2696.46,2492.2 L2805.14,2492.2 L2882,2569.06 L2882,2677.74 L2805.14,2754.6 L2696.46,2754.6 L2619.6,2677.74 L2619.6,2569.06Z" fill="#fff" stroke="#1a1413" stroke-width="1.7"/>
<path d="M2702.09,2505.8 L2799.51,2505.8 L2868.4,2574.69 L2868.4,2672.11 L2799.51,2741 L2702.09,2741 L2633.2,2672.11 L2633.2,2574.69Z" fill="#fff" stroke="#1a1413" stroke-width="3"/>
<path d="M2706.6,2516.7 L2795,2516.7 L2857.5,2579.2 L2857.5,2667.6 L2795,2730.1 L2706.6,2730.1 L2644.1,2667.6 L2644.1,2579.2Z" fill="#1d1411"/>
<rect x="2678.8" y="2575.6" width="150.8" height="104.4" fill="#000" filter="url(#blur2)"/>
<text transform="translate(2743.1,2597.8) scale(1,1.04)" font-size="34.4" fill="#fff" stroke="#fff" stroke-width="0.7" text-anchor="middle">HIGH IN</text>
<text transform="translate(2743.5,2639.6) scale(1,1.04)" font-size="34.4" fill="#fff" stroke="#fff" stroke-width="0.7" text-anchor="middle">SODIUM</text>
</g>
</svg>
</body></html>
